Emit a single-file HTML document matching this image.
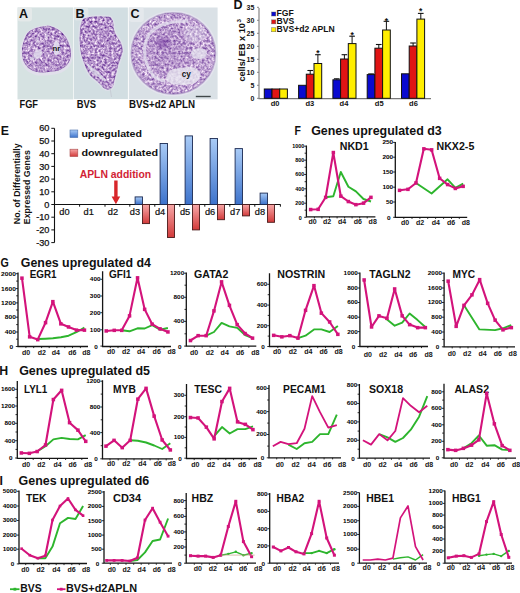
<!DOCTYPE html>
<html><head><meta charset="utf-8"><style>
html,body{margin:0;padding:0;background:#fff;overflow:hidden}
svg{display:block}
text{font-family:"Liberation Sans",sans-serif}
</style></head><body>
<svg width="520" height="593" viewBox="0 0 520 593" font-family="Liberation Sans, sans-serif" fill="#111">
<defs>
<filter id="tex" x="0" y="0" width="520" height="120" filterUnits="userSpaceOnUse" color-interpolation-filters="sRGB">
<feTurbulence type="fractalNoise" baseFrequency="0.42" numOctaves="2" seed="7" result="n"/>
<feColorMatrix in="n" type="matrix" values="1.0 0 0 0 0.215  1.25 0 0 0 -0.04  0.7 0 0 0 0.45  0 0 0 0 1"/>
</filter>
<linearGradient id="gup" x1="0" y1="0" x2="0" y2="1"><stop offset="0" stop-color="#a9cbf6"/><stop offset="1" stop-color="#3d73cc"/></linearGradient>
<linearGradient id="gdn" x1="0" y1="0" x2="0" y2="1"><stop offset="0" stop-color="#f7a8a8"/><stop offset="1" stop-color="#d23a3a"/></linearGradient>
<clipPath id="cA"><path d="M50.0,26.0 C52.6,26.6 56.3,28.3 58.8,30.0 C61.3,31.7 63.4,33.9 65.0,36.0 C66.6,38.1 67.5,39.8 68.5,42.5 C69.5,45.2 70.8,49.2 71.0,52.0 C71.2,54.8 70.8,57.2 70.0,59.5 C69.2,61.8 68.2,63.8 66.5,65.5 C64.8,67.2 62.2,68.8 60.0,69.8 C57.8,70.8 55.7,71.2 53.0,71.6 C50.3,72.0 46.8,72.4 44.0,72.4 C41.2,72.4 38.5,72.5 36.0,71.8 C33.5,71.1 30.9,70.0 29.0,68.5 C27.1,67.0 25.6,65.1 24.5,63.0 C23.4,60.9 22.6,58.7 22.2,56.0 C21.8,53.3 21.9,49.8 22.3,47.0 C22.7,44.2 23.5,41.5 24.5,39.0 C25.5,36.5 26.6,33.8 28.5,32.0 C30.4,30.2 33.6,28.9 36.0,28.0 C38.4,27.1 40.7,26.7 43.0,26.4 C45.3,26.1 47.4,25.4 50.0,26.0 Z"/></clipPath>
<clipPath id="cB"><path d="M83.5,19.0 C85.0,17.8 87.6,17.4 90.0,17.0 C92.4,16.6 95.3,16.6 98.0,16.6 C100.7,16.6 103.9,16.7 106.0,16.8 C108.1,16.9 109.3,16.6 110.5,17.5 C111.7,18.4 112.4,19.9 113.0,22.0 C113.6,24.1 113.3,27.6 114.0,30.0 C114.7,32.4 115.8,34.3 117.0,36.5 C118.2,38.7 120.1,40.8 121.0,43.0 C121.9,45.2 122.6,47.7 122.6,50.0 C122.6,52.3 121.7,54.7 121.0,57.0 C120.3,59.3 119.2,61.5 118.5,64.0 C117.8,66.5 117.2,69.3 116.5,72.0 C115.8,74.7 115.1,77.6 114.5,80.0 C113.9,82.4 113.7,84.9 112.8,86.5 C111.9,88.1 110.4,89.2 109.0,89.5 C107.6,89.8 106.0,89.4 104.5,88.5 C103.0,87.6 101.6,85.5 100.0,84.0 C98.4,82.5 96.7,81.0 95.0,79.5 C93.3,78.0 91.4,76.8 90.0,75.0 C88.6,73.2 87.7,71.5 86.5,69.0 C85.3,66.5 84.0,62.8 83.0,60.0 C82.0,57.2 81.3,55.0 80.8,52.0 C80.3,49.0 79.9,45.3 79.8,42.0 C79.7,38.7 79.7,35.0 79.9,32.0 C80.1,29.0 80.4,26.2 81.0,24.0 C81.6,21.8 82.0,20.2 83.5,19.0 Z"/></clipPath>
<clipPath id="cC"><ellipse cx="173.4" cy="53.4" rx="42" ry="40.6"/></clipPath>
</defs>
<rect x="0" y="0" width="520" height="593" fill="#ffffff"/>
<rect x="17.5" y="7.4" width="55.8" height="92" fill="#d6e2e2"/>
<rect x="73.9" y="7.5" width="54" height="91.6" fill="#d2dee2"/>
<rect x="128.8" y="7.5" width="88.8" height="91.8" fill="#dae1e6"/>
<rect x="17.5" y="7" width="14.5" height="14.5" rx="3" fill="#e8ebeb" opacity="0.75"/>
<rect x="73.8" y="7" width="14.5" height="13.5" rx="3" fill="#e6eaeb" opacity="0.7"/>
<rect x="128.8" y="7" width="15" height="15" rx="3" fill="#e8ebee" opacity="0.7"/>
<path d="M50.0,26.0 C52.6,26.6 56.3,28.3 58.8,30.0 C61.3,31.7 63.4,33.9 65.0,36.0 C66.6,38.1 67.5,39.8 68.5,42.5 C69.5,45.2 70.8,49.2 71.0,52.0 C71.2,54.8 70.8,57.2 70.0,59.5 C69.2,61.8 68.2,63.8 66.5,65.5 C64.8,67.2 62.2,68.8 60.0,69.8 C57.8,70.8 55.7,71.2 53.0,71.6 C50.3,72.0 46.8,72.4 44.0,72.4 C41.2,72.4 38.5,72.5 36.0,71.8 C33.5,71.1 30.9,70.0 29.0,68.5 C27.1,67.0 25.6,65.1 24.5,63.0 C23.4,60.9 22.6,58.7 22.2,56.0 C21.8,53.3 21.9,49.8 22.3,47.0 C22.7,44.2 23.5,41.5 24.5,39.0 C25.5,36.5 26.6,33.8 28.5,32.0 C30.4,30.2 33.6,28.9 36.0,28.0 C38.4,27.1 40.7,26.7 43.0,26.4 C45.3,26.1 47.4,25.4 50.0,26.0 Z" fill="#e4e0ee" stroke="#e4e0ee" stroke-width="4" stroke-linejoin="round" opacity="0.8" transform="translate(0,1.2)"/>
<path d="M83.5,19.0 C85.0,17.8 87.6,17.4 90.0,17.0 C92.4,16.6 95.3,16.6 98.0,16.6 C100.7,16.6 103.9,16.7 106.0,16.8 C108.1,16.9 109.3,16.6 110.5,17.5 C111.7,18.4 112.4,19.9 113.0,22.0 C113.6,24.1 113.3,27.6 114.0,30.0 C114.7,32.4 115.8,34.3 117.0,36.5 C118.2,38.7 120.1,40.8 121.0,43.0 C121.9,45.2 122.6,47.7 122.6,50.0 C122.6,52.3 121.7,54.7 121.0,57.0 C120.3,59.3 119.2,61.5 118.5,64.0 C117.8,66.5 117.2,69.3 116.5,72.0 C115.8,74.7 115.1,77.6 114.5,80.0 C113.9,82.4 113.7,84.9 112.8,86.5 C111.9,88.1 110.4,89.2 109.0,89.5 C107.6,89.8 106.0,89.4 104.5,88.5 C103.0,87.6 101.6,85.5 100.0,84.0 C98.4,82.5 96.7,81.0 95.0,79.5 C93.3,78.0 91.4,76.8 90.0,75.0 C88.6,73.2 87.7,71.5 86.5,69.0 C85.3,66.5 84.0,62.8 83.0,60.0 C82.0,57.2 81.3,55.0 80.8,52.0 C80.3,49.0 79.9,45.3 79.8,42.0 C79.7,38.7 79.7,35.0 79.9,32.0 C80.1,29.0 80.4,26.2 81.0,24.0 C81.6,21.8 82.0,20.2 83.5,19.0 Z" fill="#e2e0ec" stroke="#e2e0ec" stroke-width="3" opacity="0.7"/>
<ellipse cx="173.4" cy="53.4" rx="44.5" ry="43" fill="#e4e4ee" opacity="0.9"/>
<g clip-path="url(#cA)"><rect x="0" y="0" width="520" height="120" filter="url(#tex)"/></g>
<g clip-path="url(#cB)"><rect x="0" y="0" width="520" height="120" filter="url(#tex)"/></g>
<g clip-path="url(#cC)"><rect x="0" y="0" width="520" height="120" filter="url(#tex)"/></g>
<path d="M50.0,26.0 C52.6,26.6 56.3,28.3 58.8,30.0 C61.3,31.7 63.4,33.9 65.0,36.0 C66.6,38.1 67.5,39.8 68.5,42.5 C69.5,45.2 70.8,49.2 71.0,52.0 C71.2,54.8 70.8,57.2 70.0,59.5 C69.2,61.8 68.2,63.8 66.5,65.5 C64.8,67.2 62.2,68.8 60.0,69.8 C57.8,70.8 55.7,71.2 53.0,71.6 C50.3,72.0 46.8,72.4 44.0,72.4 C41.2,72.4 38.5,72.5 36.0,71.8 C33.5,71.1 30.9,70.0 29.0,68.5 C27.1,67.0 25.6,65.1 24.5,63.0 C23.4,60.9 22.6,58.7 22.2,56.0 C21.8,53.3 21.9,49.8 22.3,47.0 C22.7,44.2 23.5,41.5 24.5,39.0 C25.5,36.5 26.6,33.8 28.5,32.0 C30.4,30.2 33.6,28.9 36.0,28.0 C38.4,27.1 40.7,26.7 43.0,26.4 C45.3,26.1 47.4,25.4 50.0,26.0 Z" fill="none" stroke="#5a2a88" stroke-width="1.6" opacity="0.35" clip-path="url(#cA)"/>
<g clip-path="url(#cA)" fill="#e2deee"><ellipse cx="37.8" cy="54" rx="3.8" ry="5.2" transform="rotate(35 37.8 54)" opacity="0.8"/><ellipse cx="32" cy="58.5" rx="2.4" ry="1.8" opacity="0.7"/><ellipse cx="56.4" cy="48.2" rx="3.4" ry="7" opacity="0.9"/><ellipse cx="37.5" cy="40" rx="1.4" ry="4" opacity="0.45"/><ellipse cx="47" cy="36" rx="1.2" ry="3" opacity="0.4"/></g>
<path d="M83.5,19.0 C85.0,17.8 87.6,17.4 90.0,17.0 C92.4,16.6 95.3,16.6 98.0,16.6 C100.7,16.6 103.9,16.7 106.0,16.8 C108.1,16.9 109.3,16.6 110.5,17.5 C111.7,18.4 112.4,19.9 113.0,22.0 C113.6,24.1 113.3,27.6 114.0,30.0 C114.7,32.4 115.8,34.3 117.0,36.5 C118.2,38.7 120.1,40.8 121.0,43.0 C121.9,45.2 122.6,47.7 122.6,50.0 C122.6,52.3 121.7,54.7 121.0,57.0 C120.3,59.3 119.2,61.5 118.5,64.0 C117.8,66.5 117.2,69.3 116.5,72.0 C115.8,74.7 115.1,77.6 114.5,80.0 C113.9,82.4 113.7,84.9 112.8,86.5 C111.9,88.1 110.4,89.2 109.0,89.5 C107.6,89.8 106.0,89.4 104.5,88.5 C103.0,87.6 101.6,85.5 100.0,84.0 C98.4,82.5 96.7,81.0 95.0,79.5 C93.3,78.0 91.4,76.8 90.0,75.0 C88.6,73.2 87.7,71.5 86.5,69.0 C85.3,66.5 84.0,62.8 83.0,60.0 C82.0,57.2 81.3,55.0 80.8,52.0 C80.3,49.0 79.9,45.3 79.8,42.0 C79.7,38.7 79.7,35.0 79.9,32.0 C80.1,29.0 80.4,26.2 81.0,24.0 C81.6,21.8 82.0,20.2 83.5,19.0 Z" fill="none" stroke="#5a2a88" stroke-width="1.8" opacity="0.3" clip-path="url(#cB)"/>
<ellipse cx="173.4" cy="53.4" rx="42" ry="40.6" fill="none" stroke="#5a2a88" stroke-width="1.8" opacity="0.3"/>
<g clip-path="url(#cB)" fill="#dde0ea"><path d="M86,62 Q91,67 97,71 Q102,75 106.5,80.5 L105,81.5 Q99,77.5 93.5,74 Q88.5,69.5 86,62 Z" opacity="0.7"/><circle cx="92" cy="78" r="1.6" opacity="0.6"/><circle cx="97" cy="82" r="1.4" opacity="0.6"/><circle cx="89" cy="73" r="1.2" opacity="0.5"/><circle cx="101" cy="86" r="1.3" opacity="0.5"/><path d="M80,50 Q81,58 84,64 L82,64 Z" opacity="0.6"/></g>
<line x1="110" y1="88" x2="111.5" y2="97" stroke="#c8cdd6" stroke-width="1"/>
<radialGradient id="dk"><stop offset="0" stop-color="#6a2a98" stop-opacity="0.55"/><stop offset="1" stop-color="#6a2a98" stop-opacity="0"/></radialGradient>
<g clip-path="url(#cC)"><rect x="128" y="8" width="92" height="92" fill="#ffffff" opacity="0.13"/><ellipse cx="168" cy="50" rx="24" ry="26" fill="#7a3aa0" opacity="0.10"/><ellipse cx="195" cy="34" rx="11" ry="8" fill="#eceaf4" opacity="0.35"/><path d="M188,21 Q164,21 152,31 Q144,40 144.5,52 Q145,64 152,74 Q157,80 165,81" fill="none" stroke="#e4e2ef" stroke-width="3" opacity="0.75"/><ellipse cx="163" cy="43" rx="10" ry="9" fill="url(#dk)"/><ellipse cx="199" cy="53.5" rx="8" ry="5.5" fill="#e6e4ef" opacity="0.75"/><path d="M166,78 Q167,72 172,69.5 Q180,67 190,67 Q198,68 200.5,73 Q201,80 194,83.5 Q183,86 172,84 Q167,82 166,78 Z" fill="#e8e7f0" opacity="0.8"/></g>
<text x="52.60" y="50.60" font-size="7.6" font-weight="bold" fill="#141414" textLength="7.80" lengthAdjust="spacingAndGlyphs" >nr</text>
<text x="181.80" y="77.20" font-size="8.2" font-weight="bold" fill="#141414" >cy</text>
<line x1="195.8" y1="96.5" x2="210.7" y2="96.5" stroke="#40484a" stroke-width="1.4"/>
<text x="19.00" y="18.10" font-size="12.5" font-weight="bold" >A</text>
<text x="75.60" y="18.10" font-size="12.5" font-weight="bold" >B</text>
<text x="130.60" y="18.10" font-size="12.5" font-weight="bold" >C</text>
<text x="19.50" y="107.70" font-size="10" font-weight="bold" textLength="18.50" lengthAdjust="spacingAndGlyphs" >FGF</text>
<text x="76.70" y="107.70" font-size="10" font-weight="bold" textLength="19.30" lengthAdjust="spacingAndGlyphs" >BVS</text>
<text x="129.00" y="107.70" font-size="10" font-weight="bold" textLength="66.00" lengthAdjust="spacingAndGlyphs" >BVS+d2 APLN</text>
<text x="233.40" y="8.70" font-size="12.5" font-weight="bold" >D</text>
<path d="M259,8 V98.6 H431" fill="none" stroke="#7a7a7a" stroke-width="1.1"/>
<line x1="257" y1="98.3" x2="259" y2="98.3" stroke="#7a7a7a" stroke-width="0.9"/>
<text x="254.40" y="100.70" font-size="7.0" font-weight="bold" text-anchor="end" textLength="3.90" lengthAdjust="spacingAndGlyphs" >0</text>
<line x1="257" y1="85.3" x2="259" y2="85.3" stroke="#7a7a7a" stroke-width="0.9"/>
<text x="254.40" y="87.70" font-size="7.0" font-weight="bold" text-anchor="end" textLength="3.90" lengthAdjust="spacingAndGlyphs" >5</text>
<line x1="257" y1="72.3" x2="259" y2="72.3" stroke="#7a7a7a" stroke-width="0.9"/>
<text x="254.40" y="74.70" font-size="7.0" font-weight="bold" text-anchor="end" textLength="7.80" lengthAdjust="spacingAndGlyphs" >10</text>
<line x1="257" y1="59.3" x2="259" y2="59.3" stroke="#7a7a7a" stroke-width="0.9"/>
<text x="254.40" y="61.70" font-size="7.0" font-weight="bold" text-anchor="end" textLength="7.80" lengthAdjust="spacingAndGlyphs" >15</text>
<line x1="257" y1="46.3" x2="259" y2="46.3" stroke="#7a7a7a" stroke-width="0.9"/>
<text x="254.40" y="48.70" font-size="7.0" font-weight="bold" text-anchor="end" textLength="7.80" lengthAdjust="spacingAndGlyphs" >20</text>
<line x1="257" y1="33.3" x2="259" y2="33.3" stroke="#7a7a7a" stroke-width="0.9"/>
<text x="254.40" y="35.70" font-size="7.0" font-weight="bold" text-anchor="end" textLength="7.80" lengthAdjust="spacingAndGlyphs" >25</text>
<line x1="257" y1="20.3" x2="259" y2="20.3" stroke="#7a7a7a" stroke-width="0.9"/>
<text x="254.40" y="22.70" font-size="7.0" font-weight="bold" text-anchor="end" textLength="7.80" lengthAdjust="spacingAndGlyphs" >30</text>
<line x1="257" y1="7.3" x2="259" y2="7.3" stroke="#7a7a7a" stroke-width="0.9"/>
<text x="254.40" y="9.70" font-size="7.0" font-weight="bold" text-anchor="end" textLength="7.80" lengthAdjust="spacingAndGlyphs" >35</text>
<text x="0.00" y="0.00" font-size="8.7" font-weight="bold" textLength="58.50" lengthAdjust="spacingAndGlyphs" transform="translate(244.6,81.6) rotate(-90)">cells/ EB x 10</text>
<text x="0.00" y="0.00" font-size="6.2" font-weight="bold" transform="translate(241.2,22.4) rotate(-90)">3</text>
<rect x="264.3" y="89.0" width="7.7" height="9.3" fill="#0a0acf" stroke="#111" stroke-width="1.0"/>
<rect x="272.0" y="89.0" width="7.7" height="9.3" fill="#e01414" stroke="#111" stroke-width="1.0"/>
<rect x="279.7" y="89.0" width="7.7" height="9.3" fill="#ffee00" stroke="#111" stroke-width="1.0"/>
<text x="275.10" y="105.90" font-size="7.6" font-weight="bold" text-anchor="middle" textLength="8.80" lengthAdjust="spacingAndGlyphs" >d0</text>
<rect x="298.6" y="85.3" width="7.7" height="13.0" fill="#0a0acf" stroke="#111" stroke-width="1.0"/>
<line x1="310.2" y1="74.2" x2="310.2" y2="70.5" stroke="#111" stroke-width="1"/>
<line x1="307.4" y1="70.5" x2="313.0" y2="70.5" stroke="#111" stroke-width="1.1"/>
<rect x="306.3" y="74.2" width="7.7" height="24.1" fill="#e01414" stroke="#111" stroke-width="1.0"/>
<line x1="317.9" y1="63.5" x2="317.9" y2="54.7" stroke="#111" stroke-width="1"/>
<line x1="315.1" y1="54.7" x2="320.7" y2="54.7" stroke="#111" stroke-width="1.1"/>
<rect x="314.0" y="63.5" width="7.7" height="34.8" fill="#ffee00" stroke="#111" stroke-width="1.0"/>
<text x="317.85" y="56.10" font-size="8.5" font-weight="bold" text-anchor="middle" >*</text>
<text x="309.90" y="105.90" font-size="7.6" font-weight="bold" text-anchor="middle" textLength="8.80" lengthAdjust="spacingAndGlyphs" >d3</text>
<line x1="336.8" y1="79.8" x2="336.8" y2="78.8" stroke="#111" stroke-width="1"/>
<line x1="333.9" y1="78.8" x2="339.6" y2="78.8" stroke="#111" stroke-width="1.1"/>
<rect x="332.9" y="79.8" width="7.7" height="18.5" fill="#0a0acf" stroke="#111" stroke-width="1.0"/>
<line x1="344.4" y1="59.0" x2="344.4" y2="54.7" stroke="#111" stroke-width="1"/>
<line x1="341.6" y1="54.7" x2="347.2" y2="54.7" stroke="#111" stroke-width="1.1"/>
<rect x="340.6" y="59.0" width="7.7" height="39.3" fill="#e01414" stroke="#111" stroke-width="1.0"/>
<line x1="352.1" y1="43.6" x2="352.1" y2="36.2" stroke="#111" stroke-width="1"/>
<line x1="349.3" y1="36.2" x2="354.9" y2="36.2" stroke="#111" stroke-width="1.1"/>
<rect x="348.3" y="43.6" width="7.7" height="54.7" fill="#ffee00" stroke="#111" stroke-width="1.0"/>
<text x="352.15" y="38.10" font-size="8.5" font-weight="bold" text-anchor="middle" >*</text>
<text x="344.00" y="105.90" font-size="7.6" font-weight="bold" text-anchor="middle" textLength="8.80" lengthAdjust="spacingAndGlyphs" >d4</text>
<line x1="371.1" y1="74.6" x2="371.1" y2="73.9" stroke="#111" stroke-width="1"/>
<line x1="368.2" y1="73.9" x2="373.9" y2="73.9" stroke="#111" stroke-width="1.1"/>
<rect x="367.2" y="74.6" width="7.7" height="23.7" fill="#0a0acf" stroke="#111" stroke-width="1.0"/>
<line x1="378.8" y1="48.2" x2="378.8" y2="44.5" stroke="#111" stroke-width="1"/>
<line x1="375.9" y1="44.5" x2="381.6" y2="44.5" stroke="#111" stroke-width="1.1"/>
<rect x="374.9" y="48.2" width="7.7" height="50.1" fill="#e01414" stroke="#111" stroke-width="1.0"/>
<line x1="386.4" y1="30.0" x2="386.4" y2="21.3" stroke="#111" stroke-width="1"/>
<line x1="383.6" y1="21.3" x2="389.2" y2="21.3" stroke="#111" stroke-width="1.1"/>
<rect x="382.6" y="30.0" width="7.7" height="68.3" fill="#ffee00" stroke="#111" stroke-width="1.0"/>
<text x="386.45" y="23.60" font-size="8.5" font-weight="bold" text-anchor="middle" >*</text>
<text x="379.20" y="105.90" font-size="7.6" font-weight="bold" text-anchor="middle" textLength="8.80" lengthAdjust="spacingAndGlyphs" >d5</text>
<rect x="401.5" y="73.8" width="7.7" height="24.5" fill="#0a0acf" stroke="#111" stroke-width="1.0"/>
<line x1="413.1" y1="46.0" x2="413.1" y2="43.0" stroke="#111" stroke-width="1"/>
<line x1="410.2" y1="43.0" x2="415.9" y2="43.0" stroke="#111" stroke-width="1.1"/>
<rect x="409.2" y="46.0" width="7.7" height="52.3" fill="#e01414" stroke="#111" stroke-width="1.0"/>
<line x1="420.8" y1="19.1" x2="420.8" y2="13.4" stroke="#111" stroke-width="1"/>
<line x1="417.9" y1="13.4" x2="423.6" y2="13.4" stroke="#111" stroke-width="1.1"/>
<rect x="416.9" y="19.1" width="7.7" height="79.2" fill="#ffee00" stroke="#111" stroke-width="1.0"/>
<text x="420.75" y="13.80" font-size="8.5" font-weight="bold" text-anchor="middle" >*</text>
<text x="413.50" y="105.90" font-size="7.6" font-weight="bold" text-anchor="middle" textLength="8.80" lengthAdjust="spacingAndGlyphs" >d6</text>
<rect x="271.6" y="12.0" width="4.2" height="4" fill="#0a0acf" stroke="#555" stroke-width="0.4"/>
<text x="276.60" y="16.10" font-size="8.6" font-weight="bold" textLength="17.19" lengthAdjust="spacingAndGlyphs" >FGF</text>
<rect x="271.6" y="19.9" width="4.2" height="4" fill="#e01414" stroke="#555" stroke-width="0.4"/>
<text x="276.60" y="24.00" font-size="8.6" font-weight="bold" textLength="17.68" lengthAdjust="spacingAndGlyphs" >BVS</text>
<rect x="271.6" y="27.8" width="4.2" height="4" fill="#ffee00" stroke="#555" stroke-width="0.4"/>
<text x="276.60" y="31.90" font-size="8.6" font-weight="bold" textLength="58.22" lengthAdjust="spacingAndGlyphs" >BVS+d2 APLN</text>
<text x="0.80" y="134.60" font-size="12.5" font-weight="bold" textLength="8.20" lengthAdjust="spacingAndGlyphs" >E</text>
<path d="M54.5,128.3 V242.6" stroke="#111" stroke-width="1.1"/>
<path d="M54.5,204.5 H280.6" stroke="#111" stroke-width="1.1"/>
<line x1="51.3" y1="242.6" x2="54.5" y2="242.6" stroke="#111" stroke-width="1"/>
<text x="49.40" y="245.70" font-size="8.7" text-anchor="end" textLength="13.20" lengthAdjust="spacingAndGlyphs" stroke="#111" stroke-width="0.25">-30</text>
<line x1="51.3" y1="229.9" x2="54.5" y2="229.9" stroke="#111" stroke-width="1"/>
<text x="49.40" y="233.00" font-size="8.7" text-anchor="end" textLength="13.20" lengthAdjust="spacingAndGlyphs" stroke="#111" stroke-width="0.25">-20</text>
<line x1="51.3" y1="217.2" x2="54.5" y2="217.2" stroke="#111" stroke-width="1"/>
<text x="49.40" y="220.30" font-size="8.7" text-anchor="end" textLength="13.20" lengthAdjust="spacingAndGlyphs" stroke="#111" stroke-width="0.25">-10</text>
<line x1="51.3" y1="204.5" x2="54.5" y2="204.5" stroke="#111" stroke-width="1"/>
<text x="49.40" y="207.60" font-size="8.7" text-anchor="end" textLength="5.08" lengthAdjust="spacingAndGlyphs" stroke="#111" stroke-width="0.25">0</text>
<line x1="51.3" y1="191.8" x2="54.5" y2="191.8" stroke="#111" stroke-width="1"/>
<text x="49.40" y="194.90" font-size="8.7" text-anchor="end" textLength="10.16" lengthAdjust="spacingAndGlyphs" stroke="#111" stroke-width="0.25">10</text>
<line x1="51.3" y1="179.1" x2="54.5" y2="179.1" stroke="#111" stroke-width="1"/>
<text x="49.40" y="182.20" font-size="8.7" text-anchor="end" textLength="10.16" lengthAdjust="spacingAndGlyphs" stroke="#111" stroke-width="0.25">20</text>
<line x1="51.3" y1="166.4" x2="54.5" y2="166.4" stroke="#111" stroke-width="1"/>
<text x="49.40" y="169.50" font-size="8.7" text-anchor="end" textLength="10.16" lengthAdjust="spacingAndGlyphs" stroke="#111" stroke-width="0.25">30</text>
<line x1="51.3" y1="153.7" x2="54.5" y2="153.7" stroke="#111" stroke-width="1"/>
<text x="49.40" y="156.80" font-size="8.7" text-anchor="end" textLength="10.16" lengthAdjust="spacingAndGlyphs" stroke="#111" stroke-width="0.25">40</text>
<line x1="51.3" y1="141.0" x2="54.5" y2="141.0" stroke="#111" stroke-width="1"/>
<text x="49.40" y="144.10" font-size="8.7" text-anchor="end" textLength="10.16" lengthAdjust="spacingAndGlyphs" stroke="#111" stroke-width="0.25">50</text>
<line x1="51.3" y1="128.3" x2="54.5" y2="128.3" stroke="#111" stroke-width="1"/>
<text x="49.40" y="131.40" font-size="8.7" text-anchor="end" textLength="10.16" lengthAdjust="spacingAndGlyphs" stroke="#111" stroke-width="0.25">60</text>
<text x="0.00" y="0.00" font-size="8.8" font-weight="bold" textLength="80.80" lengthAdjust="spacingAndGlyphs" transform="translate(19.6,224.2) rotate(-90)">No. of Differentially</text>
<text x="0.00" y="0.00" font-size="8.8" font-weight="bold" textLength="74.00" lengthAdjust="spacingAndGlyphs" transform="translate(29.6,224.2) rotate(-90)">Expressed Genes</text>
<line x1="79.6" y1="204.5" x2="79.6" y2="206.7" stroke="#111" stroke-width="1"/>
<line x1="105" y1="204.5" x2="105" y2="206.7" stroke="#111" stroke-width="1"/>
<line x1="129.8" y1="204.5" x2="129.8" y2="206.7" stroke="#111" stroke-width="1"/>
<line x1="154.8" y1="204.5" x2="154.8" y2="206.7" stroke="#111" stroke-width="1"/>
<line x1="179.8" y1="204.5" x2="179.8" y2="206.7" stroke="#111" stroke-width="1"/>
<line x1="204.8" y1="204.5" x2="204.8" y2="206.7" stroke="#111" stroke-width="1"/>
<line x1="229.8" y1="204.5" x2="229.8" y2="206.7" stroke="#111" stroke-width="1"/>
<line x1="254.8" y1="204.5" x2="254.8" y2="206.7" stroke="#111" stroke-width="1"/>
<line x1="280.4" y1="204.5" x2="280.4" y2="206.7" stroke="#111" stroke-width="1"/>
<text x="59.30" y="215.40" font-size="8.6" textLength="10.30" lengthAdjust="spacingAndGlyphs" stroke="#111" stroke-width="0.2">d0</text>
<text x="83.50" y="215.40" font-size="8.6" textLength="10.30" lengthAdjust="spacingAndGlyphs" stroke="#111" stroke-width="0.2">d1</text>
<text x="107.80" y="215.40" font-size="8.6" textLength="10.30" lengthAdjust="spacingAndGlyphs" stroke="#111" stroke-width="0.2">d2</text>
<text x="129.80" y="215.40" font-size="8.6" textLength="10.30" lengthAdjust="spacingAndGlyphs" stroke="#111" stroke-width="0.2">d3</text>
<text x="154.90" y="215.40" font-size="8.6" textLength="10.30" lengthAdjust="spacingAndGlyphs" stroke="#111" stroke-width="0.2">d4</text>
<text x="179.90" y="215.40" font-size="8.6" textLength="10.30" lengthAdjust="spacingAndGlyphs" stroke="#111" stroke-width="0.2">d5</text>
<text x="204.90" y="215.40" font-size="8.6" textLength="10.30" lengthAdjust="spacingAndGlyphs" stroke="#111" stroke-width="0.2">d6</text>
<text x="230.00" y="215.40" font-size="8.6" textLength="10.30" lengthAdjust="spacingAndGlyphs" stroke="#111" stroke-width="0.2">d7</text>
<text x="254.80" y="215.40" font-size="8.6" textLength="10.30" lengthAdjust="spacingAndGlyphs" stroke="#111" stroke-width="0.2">d8</text>
<rect x="135.1" y="196.9" width="7.4" height="7.6" fill="url(#gup)" stroke="#1b2a52" stroke-width="0.9"/>
<rect x="142.5" y="204.5" width="7.0" height="19.1" fill="url(#gdn)" stroke="#4a1a1a" stroke-width="0.9"/>
<rect x="160.1" y="143.5" width="7.4" height="61.0" fill="url(#gup)" stroke="#1b2a52" stroke-width="0.9"/>
<rect x="167.5" y="204.5" width="7.0" height="33.0" fill="url(#gdn)" stroke="#4a1a1a" stroke-width="0.9"/>
<rect x="185.1" y="135.9" width="7.4" height="68.6" fill="url(#gup)" stroke="#1b2a52" stroke-width="0.9"/>
<rect x="192.5" y="204.5" width="7.0" height="25.4" fill="url(#gdn)" stroke="#4a1a1a" stroke-width="0.9"/>
<rect x="210.1" y="138.5" width="7.4" height="66.0" fill="url(#gup)" stroke="#1b2a52" stroke-width="0.9"/>
<rect x="217.5" y="204.5" width="7.0" height="15.2" fill="url(#gdn)" stroke="#4a1a1a" stroke-width="0.9"/>
<rect x="235.1" y="148.6" width="7.4" height="55.9" fill="url(#gup)" stroke="#1b2a52" stroke-width="0.9"/>
<rect x="242.5" y="204.5" width="7.0" height="11.4" fill="url(#gdn)" stroke="#4a1a1a" stroke-width="0.9"/>
<rect x="260.1" y="193.1" width="7.4" height="11.4" fill="url(#gup)" stroke="#1b2a52" stroke-width="0.9"/>
<rect x="267.5" y="204.5" width="7.0" height="17.8" fill="url(#gdn)" stroke="#4a1a1a" stroke-width="0.9"/>
<rect x="70" y="130" width="7.8" height="7.5" fill="url(#gup)" stroke="#4a6fa8" stroke-width="0.6"/>
<rect x="70" y="149.2" width="7.8" height="7.3" fill="url(#gdn)" stroke="#a84a4a" stroke-width="0.6"/>
<text x="81.40" y="137.20" font-size="9.8" font-weight="bold" textLength="60.60" lengthAdjust="spacingAndGlyphs" >upregulated</text>
<text x="81.40" y="155.80" font-size="9.8" font-weight="bold" textLength="76.65" lengthAdjust="spacingAndGlyphs" >downregulated</text>
<text x="79.70" y="177.90" font-size="10.3" font-weight="bold" fill="#d21f35" textLength="71.50" lengthAdjust="spacingAndGlyphs" >APLN addition</text>
<path d="M114.2,180.5 H117.6 V196.5 H120.2 L115.9,204.3 L111.6,196.5 H114.2 Z" fill="#d8262b"/>
<text x="294.40" y="134.50" font-size="12.3" font-weight="bold" textLength="6.40" lengthAdjust="spacingAndGlyphs" >F</text>
<text x="311.20" y="134.50" font-size="12.3" font-weight="bold" textLength="130.50" lengthAdjust="spacingAndGlyphs" >Genes upregulated d3</text>
<text x="0.60" y="267.00" font-size="12.3" font-weight="bold" textLength="8.30" lengthAdjust="spacingAndGlyphs" >G</text>
<text x="20.80" y="267.00" font-size="12.3" font-weight="bold" textLength="130.10" lengthAdjust="spacingAndGlyphs" >Genes upregulated d4</text>
<text x="-0.80" y="374.90" font-size="12.3" font-weight="bold" >H</text>
<text x="19.20" y="374.90" font-size="12.3" font-weight="bold" textLength="130.80" lengthAdjust="spacingAndGlyphs" >Genes upregulated d5</text>
<text x="-0.50" y="484.60" font-size="12.3" font-weight="bold" >I</text>
<text x="18.60" y="484.60" font-size="12.3" font-weight="bold" textLength="130.70" lengthAdjust="spacingAndGlyphs" >Genes upregulated d6</text>
<path d="M306.4,145.5 V216.8 H375.4" fill="none" stroke="#151515" stroke-width="1.3"/>
<line x1="304.2" y1="146.2" x2="306.4" y2="146.2" stroke="#151515" stroke-width="0.9"/>
<text x="304.30" y="148.02" font-size="5.2" font-weight="bold" text-anchor="end" fill="#000" textLength="12.00" lengthAdjust="spacingAndGlyphs" >1000</text>
<line x1="304.59999999999997" y1="153.2" x2="306.4" y2="153.2" stroke="#151515" stroke-width="0.9"/>
<line x1="304.2" y1="160.2" x2="306.4" y2="160.2" stroke="#151515" stroke-width="0.9"/>
<text x="304.30" y="162.02" font-size="5.2" font-weight="bold" text-anchor="end" fill="#000" textLength="9.00" lengthAdjust="spacingAndGlyphs" >800</text>
<line x1="304.59999999999997" y1="167.3" x2="306.4" y2="167.3" stroke="#151515" stroke-width="0.9"/>
<line x1="304.2" y1="174.5" x2="306.4" y2="174.5" stroke="#151515" stroke-width="0.9"/>
<text x="304.30" y="176.32" font-size="5.2" font-weight="bold" text-anchor="end" fill="#000" textLength="9.00" lengthAdjust="spacingAndGlyphs" >600</text>
<line x1="304.59999999999997" y1="181.7" x2="306.4" y2="181.7" stroke="#151515" stroke-width="0.9"/>
<line x1="304.2" y1="188.8" x2="306.4" y2="188.8" stroke="#151515" stroke-width="0.9"/>
<text x="304.30" y="190.62" font-size="5.2" font-weight="bold" text-anchor="end" fill="#000" textLength="9.00" lengthAdjust="spacingAndGlyphs" >400</text>
<line x1="304.59999999999997" y1="196.0" x2="306.4" y2="196.0" stroke="#151515" stroke-width="0.9"/>
<line x1="304.2" y1="203.2" x2="306.4" y2="203.2" stroke="#151515" stroke-width="0.9"/>
<text x="304.30" y="205.02" font-size="5.2" font-weight="bold" text-anchor="end" fill="#000" textLength="9.00" lengthAdjust="spacingAndGlyphs" >200</text>
<line x1="304.59999999999997" y1="210.2" x2="306.4" y2="210.2" stroke="#151515" stroke-width="0.9"/>
<line x1="304.2" y1="217.3" x2="306.4" y2="217.3" stroke="#151515" stroke-width="0.9"/>
<text x="301.70" y="219.62" font-size="5.2" font-weight="bold" text-anchor="end" fill="#000" textLength="3.00" lengthAdjust="spacingAndGlyphs" >0</text>
<text x="308.50" y="224.20" font-size="7.0" font-weight="bold" fill="#151515" textLength="8.20" lengthAdjust="spacingAndGlyphs" >d0</text>
<text x="323.00" y="224.20" font-size="7.0" font-weight="bold" fill="#151515" textLength="8.20" lengthAdjust="spacingAndGlyphs" >d2</text>
<text x="338.00" y="224.20" font-size="7.0" font-weight="bold" fill="#151515" textLength="8.20" lengthAdjust="spacingAndGlyphs" >d4</text>
<text x="353.80" y="224.20" font-size="7.0" font-weight="bold" fill="#151515" textLength="8.20" lengthAdjust="spacingAndGlyphs" >d6</text>
<text x="368.60" y="224.20" font-size="7.0" font-weight="bold" fill="#151515" textLength="8.20" lengthAdjust="spacingAndGlyphs" >d8</text>
<line x1="314.4" y1="216.8" x2="314.4" y2="218.4" stroke="#151515" stroke-width="0.9"/>
<line x1="321.9" y1="216.8" x2="321.9" y2="218.4" stroke="#151515" stroke-width="0.9"/>
<line x1="329.5" y1="216.8" x2="329.5" y2="218.4" stroke="#151515" stroke-width="0.9"/>
<line x1="337.1" y1="216.8" x2="337.1" y2="218.4" stroke="#151515" stroke-width="0.9"/>
<line x1="344.6" y1="216.8" x2="344.6" y2="218.4" stroke="#151515" stroke-width="0.9"/>
<line x1="352.1" y1="216.8" x2="352.1" y2="218.4" stroke="#151515" stroke-width="0.9"/>
<line x1="359.7" y1="216.8" x2="359.7" y2="218.4" stroke="#151515" stroke-width="0.9"/>
<line x1="367.2" y1="216.8" x2="367.2" y2="218.4" stroke="#151515" stroke-width="0.9"/>
<text x="339.70" y="149.80" font-size="10.4" font-weight="bold" textLength="29.00" lengthAdjust="spacingAndGlyphs" >NKD1</text>
<polyline points="325.7,197.3 333.3,196.2 340.8,172.0 348.4,186.7 355.9,191.4 363.5,199.0 371.0,201.5" fill="none" stroke="#2db52d" stroke-width="1.9" stroke-linejoin="round"/>
<polyline points="310.6,209.5 318.1,209.3 325.7,197.3 333.3,152.6 340.8,196.2 348.4,201.5 355.9,204.7 363.5,203.2 371.0,197.3" fill="none" stroke="#d3137b" stroke-width="2.1" stroke-linejoin="round"/>
<rect x="308.9" y="207.8" width="3.5" height="3.5" fill="#d3137b"/>
<rect x="316.4" y="207.6" width="3.5" height="3.5" fill="#d3137b"/>
<rect x="323.9" y="195.6" width="3.5" height="3.5" fill="#d3137b"/>
<rect x="331.6" y="150.8" width="3.5" height="3.5" fill="#d3137b"/>
<rect x="339.1" y="194.4" width="3.5" height="3.5" fill="#d3137b"/>
<rect x="346.6" y="199.8" width="3.5" height="3.5" fill="#d3137b"/>
<rect x="354.1" y="202.9" width="3.5" height="3.5" fill="#d3137b"/>
<rect x="361.8" y="201.4" width="3.5" height="3.5" fill="#d3137b"/>
<rect x="369.2" y="195.6" width="3.5" height="3.5" fill="#d3137b"/>
<path d="M395.3,142.0 V217.3 H467.2" fill="none" stroke="#151515" stroke-width="1.3"/>
<line x1="393.1" y1="142.4" x2="395.3" y2="142.4" stroke="#151515" stroke-width="0.9"/>
<text x="393.20" y="144.29" font-size="5.4" font-weight="bold" text-anchor="end" fill="#000" textLength="10.80" lengthAdjust="spacingAndGlyphs" >250</text>
<line x1="393.1" y1="157.2" x2="395.3" y2="157.2" stroke="#151515" stroke-width="0.9"/>
<text x="393.20" y="159.09" font-size="5.4" font-weight="bold" text-anchor="end" fill="#000" textLength="10.80" lengthAdjust="spacingAndGlyphs" >200</text>
<line x1="393.1" y1="172" x2="395.3" y2="172" stroke="#151515" stroke-width="0.9"/>
<text x="393.20" y="173.89" font-size="5.4" font-weight="bold" text-anchor="end" fill="#000" textLength="10.80" lengthAdjust="spacingAndGlyphs" >150</text>
<line x1="393.1" y1="187.2" x2="395.3" y2="187.2" stroke="#151515" stroke-width="0.9"/>
<text x="393.20" y="189.09" font-size="5.4" font-weight="bold" text-anchor="end" fill="#000" textLength="10.80" lengthAdjust="spacingAndGlyphs" >100</text>
<line x1="393.1" y1="202" x2="395.3" y2="202" stroke="#151515" stroke-width="0.9"/>
<text x="393.20" y="203.89" font-size="5.4" font-weight="bold" text-anchor="end" fill="#000" textLength="7.20" lengthAdjust="spacingAndGlyphs" >50</text>
<line x1="393.1" y1="217.3" x2="395.3" y2="217.3" stroke="#151515" stroke-width="0.9"/>
<text x="390.60" y="219.69" font-size="5.4" font-weight="bold" text-anchor="end" fill="#000" textLength="3.60" lengthAdjust="spacingAndGlyphs" >0</text>
<text x="401.00" y="225.00" font-size="7.0" font-weight="bold" fill="#151515" textLength="8.20" lengthAdjust="spacingAndGlyphs" >d0</text>
<text x="416.00" y="225.00" font-size="7.0" font-weight="bold" fill="#151515" textLength="8.20" lengthAdjust="spacingAndGlyphs" >d2</text>
<text x="431.80" y="225.00" font-size="7.0" font-weight="bold" fill="#151515" textLength="8.20" lengthAdjust="spacingAndGlyphs" >d4</text>
<text x="447.00" y="225.00" font-size="7.0" font-weight="bold" fill="#151515" textLength="8.20" lengthAdjust="spacingAndGlyphs" >d6</text>
<text x="461.80" y="225.00" font-size="7.0" font-weight="bold" fill="#151515" textLength="8.20" lengthAdjust="spacingAndGlyphs" >d8</text>
<line x1="403.8" y1="217.3" x2="403.8" y2="218.9" stroke="#151515" stroke-width="0.9"/>
<line x1="412.0" y1="217.3" x2="412.0" y2="218.9" stroke="#151515" stroke-width="0.9"/>
<line x1="419.9" y1="217.3" x2="419.9" y2="218.9" stroke="#151515" stroke-width="0.9"/>
<line x1="427.7" y1="217.3" x2="427.7" y2="218.9" stroke="#151515" stroke-width="0.9"/>
<line x1="435.6" y1="217.3" x2="435.6" y2="218.9" stroke="#151515" stroke-width="0.9"/>
<line x1="443.6" y1="217.3" x2="443.6" y2="218.9" stroke="#151515" stroke-width="0.9"/>
<line x1="451.5" y1="217.3" x2="451.5" y2="218.9" stroke="#151515" stroke-width="0.9"/>
<line x1="459.3" y1="217.3" x2="459.3" y2="218.9" stroke="#151515" stroke-width="0.9"/>
<text x="436.50" y="149.80" font-size="10.4" font-weight="bold" textLength="37.80" lengthAdjust="spacingAndGlyphs" >NKX2-5</text>
<polyline points="416.0,183.0 431.6,193.5 447.6,179.3 455.4,187.8 463.2,183.6" fill="none" stroke="#2db52d" stroke-width="1.9" stroke-linejoin="round"/>
<polyline points="399.5,190.3 408.0,189.3 416.0,183.0 423.8,148.8 431.6,149.8 439.6,178.3 447.6,184.6 455.4,188.4 463.2,186.3" fill="none" stroke="#d3137b" stroke-width="2.1" stroke-linejoin="round"/>
<rect x="397.8" y="188.6" width="3.5" height="3.5" fill="#d3137b"/>
<rect x="406.2" y="187.6" width="3.5" height="3.5" fill="#d3137b"/>
<rect x="414.2" y="181.2" width="3.5" height="3.5" fill="#d3137b"/>
<rect x="422.1" y="147.1" width="3.5" height="3.5" fill="#d3137b"/>
<rect x="429.9" y="148.1" width="3.5" height="3.5" fill="#d3137b"/>
<rect x="437.9" y="176.6" width="3.5" height="3.5" fill="#d3137b"/>
<rect x="445.9" y="182.8" width="3.5" height="3.5" fill="#d3137b"/>
<rect x="453.6" y="186.7" width="3.5" height="3.5" fill="#d3137b"/>
<rect x="461.4" y="184.6" width="3.5" height="3.5" fill="#d3137b"/>
<path d="M18,272.6 V346.5 H88" fill="none" stroke="#151515" stroke-width="1.3"/>
<line x1="15.8" y1="273.7" x2="18" y2="273.7" stroke="#151515" stroke-width="0.9"/>
<text x="15.90" y="275.66" font-size="5.6" font-weight="bold" text-anchor="end" fill="#000" textLength="14.80" lengthAdjust="spacingAndGlyphs" >2000</text>
<line x1="16.2" y1="281.1" x2="18" y2="281.1" stroke="#151515" stroke-width="0.9"/>
<line x1="15.8" y1="288.6" x2="18" y2="288.6" stroke="#151515" stroke-width="0.9"/>
<text x="15.90" y="290.56" font-size="5.6" font-weight="bold" text-anchor="end" fill="#000" textLength="14.80" lengthAdjust="spacingAndGlyphs" >1600</text>
<line x1="16.2" y1="295.8" x2="18" y2="295.8" stroke="#151515" stroke-width="0.9"/>
<line x1="15.8" y1="302.9" x2="18" y2="302.9" stroke="#151515" stroke-width="0.9"/>
<text x="15.90" y="304.86" font-size="5.6" font-weight="bold" text-anchor="end" fill="#000" textLength="14.80" lengthAdjust="spacingAndGlyphs" >1200</text>
<line x1="16.2" y1="310.0" x2="18" y2="310.0" stroke="#151515" stroke-width="0.9"/>
<line x1="15.8" y1="317.2" x2="18" y2="317.2" stroke="#151515" stroke-width="0.9"/>
<text x="15.90" y="319.16" font-size="5.6" font-weight="bold" text-anchor="end" fill="#000" textLength="11.10" lengthAdjust="spacingAndGlyphs" >800</text>
<line x1="16.2" y1="324.6" x2="18" y2="324.6" stroke="#151515" stroke-width="0.9"/>
<line x1="15.8" y1="332" x2="18" y2="332" stroke="#151515" stroke-width="0.9"/>
<text x="15.90" y="333.96" font-size="5.6" font-weight="bold" text-anchor="end" fill="#000" textLength="11.10" lengthAdjust="spacingAndGlyphs" >400</text>
<line x1="16.2" y1="339.2" x2="18" y2="339.2" stroke="#151515" stroke-width="0.9"/>
<line x1="15.8" y1="346.5" x2="18" y2="346.5" stroke="#151515" stroke-width="0.9"/>
<text x="13.30" y="348.96" font-size="5.6" font-weight="bold" text-anchor="end" fill="#000" textLength="3.70" lengthAdjust="spacingAndGlyphs" >0</text>
<text x="21.90" y="354.80" font-size="7.0" font-weight="bold" fill="#151515" textLength="8.20" lengthAdjust="spacingAndGlyphs" >d0</text>
<text x="37.70" y="354.80" font-size="7.0" font-weight="bold" fill="#151515" textLength="8.20" lengthAdjust="spacingAndGlyphs" >d2</text>
<text x="51.70" y="354.80" font-size="7.0" font-weight="bold" fill="#151515" textLength="8.20" lengthAdjust="spacingAndGlyphs" >d4</text>
<text x="68.30" y="354.80" font-size="7.0" font-weight="bold" fill="#151515" textLength="8.20" lengthAdjust="spacingAndGlyphs" >d6</text>
<text x="82.30" y="354.80" font-size="7.0" font-weight="bold" fill="#151515" textLength="8.20" lengthAdjust="spacingAndGlyphs" >d8</text>
<line x1="25.9" y1="346.5" x2="25.9" y2="348.1" stroke="#151515" stroke-width="0.9"/>
<line x1="33.7" y1="346.5" x2="33.7" y2="348.1" stroke="#151515" stroke-width="0.9"/>
<line x1="41.6" y1="346.5" x2="41.6" y2="348.1" stroke="#151515" stroke-width="0.9"/>
<line x1="49.2" y1="346.5" x2="49.2" y2="348.1" stroke="#151515" stroke-width="0.9"/>
<line x1="56.9" y1="346.5" x2="56.9" y2="348.1" stroke="#151515" stroke-width="0.9"/>
<line x1="64.8" y1="346.5" x2="64.8" y2="348.1" stroke="#151515" stroke-width="0.9"/>
<line x1="72.5" y1="346.5" x2="72.5" y2="348.1" stroke="#151515" stroke-width="0.9"/>
<line x1="80.4" y1="346.5" x2="80.4" y2="348.1" stroke="#151515" stroke-width="0.9"/>
<text x="29.70" y="278.20" font-size="10.4" font-weight="bold" textLength="26.90" lengthAdjust="spacingAndGlyphs" >EGR1</text>
<polyline points="37.7,339.0 45.5,338.7 52.9,338.3 60.9,337.2 68.6,335.7 76.4,332.2 84.4,327.6" fill="none" stroke="#2db52d" stroke-width="1.9" stroke-linejoin="round"/>
<polyline points="22.0,278.2 29.7,336.8 37.7,339.6 45.5,322.7 52.9,301.6 60.9,323.8 68.6,327.0 76.4,330.1 84.4,330.1" fill="none" stroke="#d3137b" stroke-width="2.1" stroke-linejoin="round"/>
<rect x="20.2" y="276.4" width="3.5" height="3.5" fill="#d3137b"/>
<rect x="27.9" y="335.1" width="3.5" height="3.5" fill="#d3137b"/>
<rect x="36.0" y="337.9" width="3.5" height="3.5" fill="#d3137b"/>
<rect x="43.8" y="320.9" width="3.5" height="3.5" fill="#d3137b"/>
<rect x="51.1" y="299.9" width="3.5" height="3.5" fill="#d3137b"/>
<rect x="59.1" y="322.1" width="3.5" height="3.5" fill="#d3137b"/>
<rect x="66.8" y="325.2" width="3.5" height="3.5" fill="#d3137b"/>
<rect x="74.7" y="328.4" width="3.5" height="3.5" fill="#d3137b"/>
<rect x="82.7" y="328.4" width="3.5" height="3.5" fill="#d3137b"/>
<path d="M102.6,271.3 V346.5 H171" fill="none" stroke="#151515" stroke-width="1.3"/>
<line x1="100.39999999999999" y1="279.3" x2="102.6" y2="279.3" stroke="#151515" stroke-width="0.9"/>
<text x="100.50" y="281.26" font-size="5.6" font-weight="bold" text-anchor="end" fill="#000" textLength="10.65" lengthAdjust="spacingAndGlyphs" >400</text>
<line x1="100.39999999999999" y1="296" x2="102.6" y2="296" stroke="#151515" stroke-width="0.9"/>
<text x="100.50" y="297.96" font-size="5.6" font-weight="bold" text-anchor="end" fill="#000" textLength="10.65" lengthAdjust="spacingAndGlyphs" >300</text>
<line x1="100.39999999999999" y1="312.7" x2="102.6" y2="312.7" stroke="#151515" stroke-width="0.9"/>
<text x="100.50" y="314.66" font-size="5.6" font-weight="bold" text-anchor="end" fill="#000" textLength="10.65" lengthAdjust="spacingAndGlyphs" >200</text>
<line x1="100.39999999999999" y1="329.8" x2="102.6" y2="329.8" stroke="#151515" stroke-width="0.9"/>
<text x="100.50" y="331.76" font-size="5.6" font-weight="bold" text-anchor="end" fill="#000" textLength="10.65" lengthAdjust="spacingAndGlyphs" >100</text>
<line x1="100.39999999999999" y1="346.1" x2="102.6" y2="346.1" stroke="#151515" stroke-width="0.9"/>
<text x="97.90" y="348.56" font-size="5.6" font-weight="bold" text-anchor="end" fill="#000" textLength="3.55" lengthAdjust="spacingAndGlyphs" >0</text>
<text x="106.90" y="354.00" font-size="7.0" font-weight="bold" fill="#151515" textLength="8.20" lengthAdjust="spacingAndGlyphs" >d0</text>
<text x="121.90" y="354.00" font-size="7.0" font-weight="bold" fill="#151515" textLength="8.20" lengthAdjust="spacingAndGlyphs" >d2</text>
<text x="136.90" y="354.00" font-size="7.0" font-weight="bold" fill="#151515" textLength="8.20" lengthAdjust="spacingAndGlyphs" >d4</text>
<text x="152.60" y="354.00" font-size="7.0" font-weight="bold" fill="#151515" textLength="8.20" lengthAdjust="spacingAndGlyphs" >d6</text>
<text x="167.50" y="354.00" font-size="7.0" font-weight="bold" fill="#151515" textLength="8.20" lengthAdjust="spacingAndGlyphs" >d8</text>
<line x1="110.3" y1="346.5" x2="110.3" y2="348.1" stroke="#151515" stroke-width="0.9"/>
<line x1="118.0" y1="346.5" x2="118.0" y2="348.1" stroke="#151515" stroke-width="0.9"/>
<line x1="125.6" y1="346.5" x2="125.6" y2="348.1" stroke="#151515" stroke-width="0.9"/>
<line x1="133.5" y1="346.5" x2="133.5" y2="348.1" stroke="#151515" stroke-width="0.9"/>
<line x1="141.1" y1="346.5" x2="141.1" y2="348.1" stroke="#151515" stroke-width="0.9"/>
<line x1="148.4" y1="346.5" x2="148.4" y2="348.1" stroke="#151515" stroke-width="0.9"/>
<line x1="156.1" y1="346.5" x2="156.1" y2="348.1" stroke="#151515" stroke-width="0.9"/>
<line x1="164.0" y1="346.5" x2="164.0" y2="348.1" stroke="#151515" stroke-width="0.9"/>
<text x="109.00" y="278.20" font-size="10.4" font-weight="bold" textLength="22.40" lengthAdjust="spacingAndGlyphs" >GFI1</text>
<polyline points="121.7,330.3 129.5,331.3 137.5,328.3 144.7,328.5 152.2,325.1 160.1,329.8 167.9,328.0" fill="none" stroke="#2db52d" stroke-width="1.9" stroke-linejoin="round"/>
<polyline points="106.3,331.0 114.3,330.3 121.7,330.3 129.5,315.9 137.5,277.8 144.7,309.4 152.2,324.2 160.1,328.8 167.9,332.0" fill="none" stroke="#d3137b" stroke-width="2.1" stroke-linejoin="round"/>
<rect x="104.5" y="329.2" width="3.5" height="3.5" fill="#d3137b"/>
<rect x="112.5" y="328.6" width="3.5" height="3.5" fill="#d3137b"/>
<rect x="120.0" y="328.6" width="3.5" height="3.5" fill="#d3137b"/>
<rect x="127.8" y="314.1" width="3.5" height="3.5" fill="#d3137b"/>
<rect x="135.8" y="276.1" width="3.5" height="3.5" fill="#d3137b"/>
<rect x="142.9" y="307.6" width="3.5" height="3.5" fill="#d3137b"/>
<rect x="150.4" y="322.4" width="3.5" height="3.5" fill="#d3137b"/>
<rect x="158.3" y="327.1" width="3.5" height="3.5" fill="#d3137b"/>
<rect x="166.2" y="330.2" width="3.5" height="3.5" fill="#d3137b"/>
<path d="M186.3,272.6 V346.1 H256.3" fill="none" stroke="#151515" stroke-width="1.3"/>
<line x1="184.10000000000002" y1="273.2" x2="186.3" y2="273.2" stroke="#151515" stroke-width="0.9"/>
<text x="184.20" y="275.16" font-size="5.6" font-weight="bold" text-anchor="end" fill="#000" textLength="14.20" lengthAdjust="spacingAndGlyphs" >1200</text>
<line x1="184.5" y1="285.2" x2="186.3" y2="285.2" stroke="#151515" stroke-width="0.9"/>
<line x1="184.10000000000002" y1="297.3" x2="186.3" y2="297.3" stroke="#151515" stroke-width="0.9"/>
<text x="184.20" y="299.26" font-size="5.6" font-weight="bold" text-anchor="end" fill="#000" textLength="10.65" lengthAdjust="spacingAndGlyphs" >800</text>
<line x1="184.5" y1="309.4" x2="186.3" y2="309.4" stroke="#151515" stroke-width="0.9"/>
<line x1="184.10000000000002" y1="321.4" x2="186.3" y2="321.4" stroke="#151515" stroke-width="0.9"/>
<text x="184.20" y="323.36" font-size="5.6" font-weight="bold" text-anchor="end" fill="#000" textLength="10.65" lengthAdjust="spacingAndGlyphs" >400</text>
<line x1="184.5" y1="333.8" x2="186.3" y2="333.8" stroke="#151515" stroke-width="0.9"/>
<line x1="184.10000000000002" y1="346.1" x2="186.3" y2="346.1" stroke="#151515" stroke-width="0.9"/>
<text x="181.60" y="348.56" font-size="5.6" font-weight="bold" text-anchor="end" fill="#000" textLength="3.55" lengthAdjust="spacingAndGlyphs" >0</text>
<text x="190.00" y="355.40" font-size="7.0" font-weight="bold" fill="#151515" textLength="8.20" lengthAdjust="spacingAndGlyphs" >d0</text>
<text x="205.80" y="355.40" font-size="7.0" font-weight="bold" fill="#151515" textLength="8.20" lengthAdjust="spacingAndGlyphs" >d2</text>
<text x="220.60" y="355.40" font-size="7.0" font-weight="bold" fill="#151515" textLength="8.20" lengthAdjust="spacingAndGlyphs" >d4</text>
<text x="236.00" y="355.40" font-size="7.0" font-weight="bold" fill="#151515" textLength="8.20" lengthAdjust="spacingAndGlyphs" >d6</text>
<text x="251.20" y="355.40" font-size="7.0" font-weight="bold" fill="#151515" textLength="8.20" lengthAdjust="spacingAndGlyphs" >d8</text>
<line x1="194.3" y1="346.1" x2="194.3" y2="347.70000000000005" stroke="#151515" stroke-width="0.9"/>
<line x1="202.2" y1="346.1" x2="202.2" y2="347.70000000000005" stroke="#151515" stroke-width="0.9"/>
<line x1="210.1" y1="346.1" x2="210.1" y2="347.70000000000005" stroke="#151515" stroke-width="0.9"/>
<line x1="217.8" y1="346.1" x2="217.8" y2="347.70000000000005" stroke="#151515" stroke-width="0.9"/>
<line x1="225.5" y1="346.1" x2="225.5" y2="347.70000000000005" stroke="#151515" stroke-width="0.9"/>
<line x1="233.3" y1="346.1" x2="233.3" y2="347.70000000000005" stroke="#151515" stroke-width="0.9"/>
<line x1="241.1" y1="346.1" x2="241.1" y2="347.70000000000005" stroke="#151515" stroke-width="0.9"/>
<line x1="248.8" y1="346.1" x2="248.8" y2="347.70000000000005" stroke="#151515" stroke-width="0.9"/>
<text x="194.00" y="278.20" font-size="10.4" font-weight="bold" textLength="34.40" lengthAdjust="spacingAndGlyphs" >GATA2</text>
<polyline points="206.2,335.7 214.0,332.0 221.6,322.9 229.4,326.4 237.2,327.9 245.1,335.0 252.6,338.1" fill="none" stroke="#2db52d" stroke-width="1.9" stroke-linejoin="round"/>
<polyline points="190.4,340.5 198.2,335.7 206.2,335.7 214.0,310.9 221.6,281.9 229.4,305.3 237.2,324.6 245.1,333.5 252.6,338.1" fill="none" stroke="#d3137b" stroke-width="2.1" stroke-linejoin="round"/>
<rect x="188.7" y="338.8" width="3.5" height="3.5" fill="#d3137b"/>
<rect x="196.4" y="333.9" width="3.5" height="3.5" fill="#d3137b"/>
<rect x="204.4" y="333.9" width="3.5" height="3.5" fill="#d3137b"/>
<rect x="212.2" y="309.1" width="3.5" height="3.5" fill="#d3137b"/>
<rect x="219.8" y="280.1" width="3.5" height="3.5" fill="#d3137b"/>
<rect x="227.7" y="303.6" width="3.5" height="3.5" fill="#d3137b"/>
<rect x="235.4" y="322.9" width="3.5" height="3.5" fill="#d3137b"/>
<rect x="243.3" y="331.8" width="3.5" height="3.5" fill="#d3137b"/>
<rect x="250.8" y="336.4" width="3.5" height="3.5" fill="#d3137b"/>
<path d="M269.5,273.2 V346.5 H341" fill="none" stroke="#151515" stroke-width="1.3"/>
<line x1="267.3" y1="284.3" x2="269.5" y2="284.3" stroke="#151515" stroke-width="0.9"/>
<text x="267.40" y="286.26" font-size="5.6" font-weight="bold" text-anchor="end" fill="#000" textLength="10.65" lengthAdjust="spacingAndGlyphs" >600</text>
<line x1="267.7" y1="294.7" x2="269.5" y2="294.7" stroke="#151515" stroke-width="0.9"/>
<line x1="267.3" y1="305.1" x2="269.5" y2="305.1" stroke="#151515" stroke-width="0.9"/>
<text x="267.40" y="307.06" font-size="5.6" font-weight="bold" text-anchor="end" fill="#000" textLength="10.65" lengthAdjust="spacingAndGlyphs" >400</text>
<line x1="267.7" y1="315.4" x2="269.5" y2="315.4" stroke="#151515" stroke-width="0.9"/>
<line x1="267.3" y1="325.7" x2="269.5" y2="325.7" stroke="#151515" stroke-width="0.9"/>
<text x="267.40" y="327.66" font-size="5.6" font-weight="bold" text-anchor="end" fill="#000" textLength="10.65" lengthAdjust="spacingAndGlyphs" >200</text>
<line x1="267.7" y1="336.1" x2="269.5" y2="336.1" stroke="#151515" stroke-width="0.9"/>
<line x1="267.3" y1="346.5" x2="269.5" y2="346.5" stroke="#151515" stroke-width="0.9"/>
<text x="264.80" y="348.96" font-size="5.6" font-weight="bold" text-anchor="end" fill="#000" textLength="3.55" lengthAdjust="spacingAndGlyphs" >0</text>
<text x="273.00" y="353.80" font-size="7.0" font-weight="bold" fill="#151515" textLength="8.20" lengthAdjust="spacingAndGlyphs" >d0</text>
<text x="288.80" y="353.80" font-size="7.0" font-weight="bold" fill="#151515" textLength="8.20" lengthAdjust="spacingAndGlyphs" >d2</text>
<text x="304.20" y="353.80" font-size="7.0" font-weight="bold" fill="#151515" textLength="8.20" lengthAdjust="spacingAndGlyphs" >d4</text>
<text x="319.50" y="353.80" font-size="7.0" font-weight="bold" fill="#151515" textLength="8.20" lengthAdjust="spacingAndGlyphs" >d6</text>
<text x="334.50" y="353.80" font-size="7.0" font-weight="bold" fill="#151515" textLength="8.20" lengthAdjust="spacingAndGlyphs" >d8</text>
<line x1="277.8" y1="346.5" x2="277.8" y2="348.1" stroke="#151515" stroke-width="0.9"/>
<line x1="285.9" y1="346.5" x2="285.9" y2="348.1" stroke="#151515" stroke-width="0.9"/>
<line x1="293.9" y1="346.5" x2="293.9" y2="348.1" stroke="#151515" stroke-width="0.9"/>
<line x1="301.8" y1="346.5" x2="301.8" y2="348.1" stroke="#151515" stroke-width="0.9"/>
<line x1="309.8" y1="346.5" x2="309.8" y2="348.1" stroke="#151515" stroke-width="0.9"/>
<line x1="317.7" y1="346.5" x2="317.7" y2="348.1" stroke="#151515" stroke-width="0.9"/>
<line x1="325.5" y1="346.5" x2="325.5" y2="348.1" stroke="#151515" stroke-width="0.9"/>
<line x1="333.8" y1="346.5" x2="333.8" y2="348.1" stroke="#151515" stroke-width="0.9"/>
<text x="277.30" y="278.20" font-size="10.4" font-weight="bold" textLength="47.80" lengthAdjust="spacingAndGlyphs" >NOSTRIN</text>
<polyline points="298.0,338.1 305.5,335.7 314.0,329.4 321.4,329.4 329.6,332.0 337.9,326.0" fill="none" stroke="#2db52d" stroke-width="1.9" stroke-linejoin="round"/>
<polyline points="273.6,335.3 281.9,336.8 289.9,335.7 298.0,338.1 305.5,310.3 314.0,285.6 321.4,313.1 329.6,322.0 337.9,334.4" fill="none" stroke="#d3137b" stroke-width="2.1" stroke-linejoin="round"/>
<rect x="271.9" y="333.6" width="3.5" height="3.5" fill="#d3137b"/>
<rect x="280.1" y="335.1" width="3.5" height="3.5" fill="#d3137b"/>
<rect x="288.1" y="333.9" width="3.5" height="3.5" fill="#d3137b"/>
<rect x="296.2" y="336.4" width="3.5" height="3.5" fill="#d3137b"/>
<rect x="303.8" y="308.6" width="3.5" height="3.5" fill="#d3137b"/>
<rect x="312.2" y="283.9" width="3.5" height="3.5" fill="#d3137b"/>
<rect x="319.6" y="311.4" width="3.5" height="3.5" fill="#d3137b"/>
<rect x="327.9" y="320.2" width="3.5" height="3.5" fill="#d3137b"/>
<rect x="336.1" y="332.6" width="3.5" height="3.5" fill="#d3137b"/>
<path d="M359.9,272.6 V346.5 H428" fill="none" stroke="#151515" stroke-width="1.3"/>
<line x1="357.7" y1="273.2" x2="359.9" y2="273.2" stroke="#151515" stroke-width="0.9"/>
<text x="357.80" y="275.16" font-size="5.6" font-weight="bold" text-anchor="end" fill="#000" textLength="14.20" lengthAdjust="spacingAndGlyphs" >1000</text>
<line x1="357.7" y1="288" x2="359.9" y2="288" stroke="#151515" stroke-width="0.9"/>
<text x="357.80" y="289.96" font-size="5.6" font-weight="bold" text-anchor="end" fill="#000" textLength="10.65" lengthAdjust="spacingAndGlyphs" >800</text>
<line x1="357.7" y1="302.5" x2="359.9" y2="302.5" stroke="#151515" stroke-width="0.9"/>
<text x="357.80" y="304.46" font-size="5.6" font-weight="bold" text-anchor="end" fill="#000" textLength="10.65" lengthAdjust="spacingAndGlyphs" >600</text>
<line x1="357.7" y1="317.2" x2="359.9" y2="317.2" stroke="#151515" stroke-width="0.9"/>
<text x="357.80" y="319.16" font-size="5.6" font-weight="bold" text-anchor="end" fill="#000" textLength="10.65" lengthAdjust="spacingAndGlyphs" >400</text>
<line x1="357.7" y1="331.6" x2="359.9" y2="331.6" stroke="#151515" stroke-width="0.9"/>
<text x="357.80" y="333.56" font-size="5.6" font-weight="bold" text-anchor="end" fill="#000" textLength="10.65" lengthAdjust="spacingAndGlyphs" >200</text>
<line x1="357.7" y1="346.5" x2="359.9" y2="346.5" stroke="#151515" stroke-width="0.9"/>
<text x="355.20" y="348.96" font-size="5.6" font-weight="bold" text-anchor="end" fill="#000" textLength="3.55" lengthAdjust="spacingAndGlyphs" >0</text>
<text x="363.80" y="356.90" font-size="7.0" font-weight="bold" fill="#151515" textLength="8.20" lengthAdjust="spacingAndGlyphs" >d0</text>
<text x="379.00" y="356.90" font-size="7.0" font-weight="bold" fill="#151515" textLength="8.20" lengthAdjust="spacingAndGlyphs" >d2</text>
<text x="394.20" y="356.90" font-size="7.0" font-weight="bold" fill="#151515" textLength="8.20" lengthAdjust="spacingAndGlyphs" >d4</text>
<text x="409.00" y="356.90" font-size="7.0" font-weight="bold" fill="#151515" textLength="8.20" lengthAdjust="spacingAndGlyphs" >d6</text>
<text x="424.40" y="356.90" font-size="7.0" font-weight="bold" fill="#151515" textLength="8.20" lengthAdjust="spacingAndGlyphs" >d8</text>
<line x1="367.8" y1="346.5" x2="367.8" y2="348.1" stroke="#151515" stroke-width="0.9"/>
<line x1="375.2" y1="346.5" x2="375.2" y2="348.1" stroke="#151515" stroke-width="0.9"/>
<line x1="383.0" y1="346.5" x2="383.0" y2="348.1" stroke="#151515" stroke-width="0.9"/>
<line x1="390.9" y1="346.5" x2="390.9" y2="348.1" stroke="#151515" stroke-width="0.9"/>
<line x1="398.4" y1="346.5" x2="398.4" y2="348.1" stroke="#151515" stroke-width="0.9"/>
<line x1="405.9" y1="346.5" x2="405.9" y2="348.1" stroke="#151515" stroke-width="0.9"/>
<line x1="413.6" y1="346.5" x2="413.6" y2="348.1" stroke="#151515" stroke-width="0.9"/>
<line x1="421.5" y1="346.5" x2="421.5" y2="348.1" stroke="#151515" stroke-width="0.9"/>
<text x="369.30" y="278.20" font-size="10.4" font-weight="bold" textLength="41.20" lengthAdjust="spacingAndGlyphs" >TAGLN2</text>
<polyline points="385.5,318.3 394.7,325.7 402.2,322.7 409.6,313.5 417.6,320.1 425.3,327.0" fill="none" stroke="#2db52d" stroke-width="1.9" stroke-linejoin="round"/>
<polyline points="364.1,280.0 371.5,327.0 379.0,315.9 387.0,318.3 394.7,289.0 402.2,315.9 409.6,324.6 417.6,327.6 425.3,327.6" fill="none" stroke="#d3137b" stroke-width="2.1" stroke-linejoin="round"/>
<rect x="362.4" y="278.2" width="3.5" height="3.5" fill="#d3137b"/>
<rect x="369.8" y="325.2" width="3.5" height="3.5" fill="#d3137b"/>
<rect x="377.2" y="314.1" width="3.5" height="3.5" fill="#d3137b"/>
<rect x="385.2" y="316.6" width="3.5" height="3.5" fill="#d3137b"/>
<rect x="392.9" y="287.2" width="3.5" height="3.5" fill="#d3137b"/>
<rect x="400.4" y="314.1" width="3.5" height="3.5" fill="#d3137b"/>
<rect x="407.9" y="322.9" width="3.5" height="3.5" fill="#d3137b"/>
<rect x="415.9" y="325.9" width="3.5" height="3.5" fill="#d3137b"/>
<rect x="423.6" y="325.9" width="3.5" height="3.5" fill="#d3137b"/>
<path d="M444.1,272.6 V346.8 H515" fill="none" stroke="#151515" stroke-width="1.3"/>
<line x1="441.90000000000003" y1="273.2" x2="444.1" y2="273.2" stroke="#151515" stroke-width="0.9"/>
<text x="442.00" y="275.16" font-size="5.6" font-weight="bold" text-anchor="end" fill="#000" textLength="14.20" lengthAdjust="spacingAndGlyphs" >2000</text>
<line x1="442.3" y1="280.6" x2="444.1" y2="280.6" stroke="#151515" stroke-width="0.9"/>
<line x1="441.90000000000003" y1="288" x2="444.1" y2="288" stroke="#151515" stroke-width="0.9"/>
<text x="442.00" y="289.96" font-size="5.6" font-weight="bold" text-anchor="end" fill="#000" textLength="14.20" lengthAdjust="spacingAndGlyphs" >1600</text>
<line x1="442.3" y1="295.2" x2="444.1" y2="295.2" stroke="#151515" stroke-width="0.9"/>
<line x1="441.90000000000003" y1="302.5" x2="444.1" y2="302.5" stroke="#151515" stroke-width="0.9"/>
<text x="442.00" y="304.46" font-size="5.6" font-weight="bold" text-anchor="end" fill="#000" textLength="14.20" lengthAdjust="spacingAndGlyphs" >1200</text>
<line x1="442.3" y1="309.9" x2="444.1" y2="309.9" stroke="#151515" stroke-width="0.9"/>
<line x1="441.90000000000003" y1="317.2" x2="444.1" y2="317.2" stroke="#151515" stroke-width="0.9"/>
<text x="442.00" y="319.16" font-size="5.6" font-weight="bold" text-anchor="end" fill="#000" textLength="10.65" lengthAdjust="spacingAndGlyphs" >800</text>
<line x1="442.3" y1="324.6" x2="444.1" y2="324.6" stroke="#151515" stroke-width="0.9"/>
<line x1="441.90000000000003" y1="332" x2="444.1" y2="332" stroke="#151515" stroke-width="0.9"/>
<text x="442.00" y="333.96" font-size="5.6" font-weight="bold" text-anchor="end" fill="#000" textLength="10.65" lengthAdjust="spacingAndGlyphs" >400</text>
<line x1="442.3" y1="339.4" x2="444.1" y2="339.4" stroke="#151515" stroke-width="0.9"/>
<line x1="441.90000000000003" y1="346.8" x2="444.1" y2="346.8" stroke="#151515" stroke-width="0.9"/>
<text x="439.40" y="349.26" font-size="5.6" font-weight="bold" text-anchor="end" fill="#000" textLength="3.55" lengthAdjust="spacingAndGlyphs" >0</text>
<text x="447.70" y="355.80" font-size="7.0" font-weight="bold" fill="#151515" textLength="8.20" lengthAdjust="spacingAndGlyphs" >d0</text>
<text x="463.10" y="355.80" font-size="7.0" font-weight="bold" fill="#151515" textLength="8.20" lengthAdjust="spacingAndGlyphs" >d2</text>
<text x="478.50" y="355.80" font-size="7.0" font-weight="bold" fill="#151515" textLength="8.20" lengthAdjust="spacingAndGlyphs" >d4</text>
<text x="493.70" y="355.80" font-size="7.0" font-weight="bold" fill="#151515" textLength="8.20" lengthAdjust="spacingAndGlyphs" >d6</text>
<text x="508.60" y="355.80" font-size="7.0" font-weight="bold" fill="#151515" textLength="8.20" lengthAdjust="spacingAndGlyphs" >d8</text>
<line x1="452.2" y1="346.8" x2="452.2" y2="348.40000000000003" stroke="#151515" stroke-width="0.9"/>
<line x1="460.1" y1="346.8" x2="460.1" y2="348.40000000000003" stroke="#151515" stroke-width="0.9"/>
<line x1="468.0" y1="346.8" x2="468.0" y2="348.40000000000003" stroke="#151515" stroke-width="0.9"/>
<line x1="475.9" y1="346.8" x2="475.9" y2="348.40000000000003" stroke="#151515" stroke-width="0.9"/>
<line x1="483.7" y1="346.8" x2="483.7" y2="348.40000000000003" stroke="#151515" stroke-width="0.9"/>
<line x1="491.4" y1="346.8" x2="491.4" y2="348.40000000000003" stroke="#151515" stroke-width="0.9"/>
<line x1="499.1" y1="346.8" x2="499.1" y2="348.40000000000003" stroke="#151515" stroke-width="0.9"/>
<line x1="507.1" y1="346.8" x2="507.1" y2="348.40000000000003" stroke="#151515" stroke-width="0.9"/>
<text x="452.50" y="278.20" font-size="10.4" font-weight="bold" textLength="22.60" lengthAdjust="spacingAndGlyphs" >MYC</text>
<polyline points="464.0,305.3 479.4,329.4 495.1,330.1 503.0,328.3 511.3,325.1" fill="none" stroke="#2db52d" stroke-width="1.9" stroke-linejoin="round"/>
<polyline points="448.2,281.2 456.2,326.4 464.0,305.3 472.0,294.9 479.7,279.7 487.7,303.4 495.1,320.1 503.0,329.8 511.3,327.6" fill="none" stroke="#d3137b" stroke-width="2.1" stroke-linejoin="round"/>
<rect x="446.4" y="279.4" width="3.5" height="3.5" fill="#d3137b"/>
<rect x="454.4" y="324.6" width="3.5" height="3.5" fill="#d3137b"/>
<rect x="462.2" y="303.6" width="3.5" height="3.5" fill="#d3137b"/>
<rect x="470.2" y="293.1" width="3.5" height="3.5" fill="#d3137b"/>
<rect x="477.9" y="277.9" width="3.5" height="3.5" fill="#d3137b"/>
<rect x="485.9" y="301.6" width="3.5" height="3.5" fill="#d3137b"/>
<rect x="493.4" y="318.4" width="3.5" height="3.5" fill="#d3137b"/>
<rect x="501.2" y="328.1" width="3.5" height="3.5" fill="#d3137b"/>
<rect x="509.6" y="325.9" width="3.5" height="3.5" fill="#d3137b"/>
<path d="M17.3,381 V458.4 H88" fill="none" stroke="#151515" stroke-width="1.3"/>
<line x1="15.100000000000001" y1="389.3" x2="17.3" y2="389.3" stroke="#151515" stroke-width="0.9"/>
<text x="15.20" y="391.26" font-size="5.6" font-weight="bold" text-anchor="end" fill="#000" textLength="14.20" lengthAdjust="spacingAndGlyphs" >1600</text>
<line x1="15.5" y1="397.6" x2="17.3" y2="397.6" stroke="#151515" stroke-width="0.9"/>
<line x1="15.100000000000001" y1="406" x2="17.3" y2="406" stroke="#151515" stroke-width="0.9"/>
<text x="15.20" y="407.96" font-size="5.6" font-weight="bold" text-anchor="end" fill="#000" textLength="14.20" lengthAdjust="spacingAndGlyphs" >1200</text>
<line x1="15.5" y1="414.6" x2="17.3" y2="414.6" stroke="#151515" stroke-width="0.9"/>
<line x1="15.100000000000001" y1="423.3" x2="17.3" y2="423.3" stroke="#151515" stroke-width="0.9"/>
<text x="15.20" y="425.26" font-size="5.6" font-weight="bold" text-anchor="end" fill="#000" textLength="10.65" lengthAdjust="spacingAndGlyphs" >800</text>
<line x1="15.5" y1="432.0" x2="17.3" y2="432.0" stroke="#151515" stroke-width="0.9"/>
<line x1="15.100000000000001" y1="440.7" x2="17.3" y2="440.7" stroke="#151515" stroke-width="0.9"/>
<text x="15.20" y="442.66" font-size="5.6" font-weight="bold" text-anchor="end" fill="#000" textLength="10.65" lengthAdjust="spacingAndGlyphs" >400</text>
<line x1="15.5" y1="449.4" x2="17.3" y2="449.4" stroke="#151515" stroke-width="0.9"/>
<line x1="15.100000000000001" y1="458" x2="17.3" y2="458" stroke="#151515" stroke-width="0.9"/>
<text x="12.60" y="460.46" font-size="5.6" font-weight="bold" text-anchor="end" fill="#000" textLength="3.55" lengthAdjust="spacingAndGlyphs" >0</text>
<text x="21.90" y="466.80" font-size="7.0" font-weight="bold" fill="#151515" textLength="8.20" lengthAdjust="spacingAndGlyphs" >d0</text>
<text x="37.30" y="466.80" font-size="7.0" font-weight="bold" fill="#151515" textLength="8.20" lengthAdjust="spacingAndGlyphs" >d2</text>
<text x="53.40" y="466.80" font-size="7.0" font-weight="bold" fill="#151515" textLength="8.20" lengthAdjust="spacingAndGlyphs" >d4</text>
<text x="68.40" y="466.80" font-size="7.0" font-weight="bold" fill="#151515" textLength="8.20" lengthAdjust="spacingAndGlyphs" >d6</text>
<text x="84.00" y="466.80" font-size="7.0" font-weight="bold" fill="#151515" textLength="8.20" lengthAdjust="spacingAndGlyphs" >d8</text>
<line x1="25.3" y1="458.4" x2="25.3" y2="460.0" stroke="#151515" stroke-width="0.9"/>
<line x1="33.2" y1="458.4" x2="33.2" y2="460.0" stroke="#151515" stroke-width="0.9"/>
<line x1="41.3" y1="458.4" x2="41.3" y2="460.0" stroke="#151515" stroke-width="0.9"/>
<line x1="49.5" y1="458.4" x2="49.5" y2="460.0" stroke="#151515" stroke-width="0.9"/>
<line x1="57.5" y1="458.4" x2="57.5" y2="460.0" stroke="#151515" stroke-width="0.9"/>
<line x1="65.6" y1="458.4" x2="65.6" y2="460.0" stroke="#151515" stroke-width="0.9"/>
<line x1="73.8" y1="458.4" x2="73.8" y2="460.0" stroke="#151515" stroke-width="0.9"/>
<line x1="81.8" y1="458.4" x2="81.8" y2="460.0" stroke="#151515" stroke-width="0.9"/>
<text x="24.10" y="392.50" font-size="10.4" font-weight="bold" textLength="23.20" lengthAdjust="spacingAndGlyphs" >LYL1</text>
<polyline points="37.1,451.5 45.5,446.3 53.4,439.4 61.6,437.9 69.6,439.0 77.9,439.4 85.7,435.1" fill="none" stroke="#2db52d" stroke-width="1.9" stroke-linejoin="round"/>
<polyline points="21.3,453.0 29.3,453.3 37.1,451.5 45.5,445.0 53.4,399.5 61.6,390.3 69.6,422.7 77.9,430.1 85.7,441.3" fill="none" stroke="#d3137b" stroke-width="2.1" stroke-linejoin="round"/>
<rect x="19.6" y="451.2" width="3.5" height="3.5" fill="#d3137b"/>
<rect x="27.6" y="451.6" width="3.5" height="3.5" fill="#d3137b"/>
<rect x="35.4" y="449.8" width="3.5" height="3.5" fill="#d3137b"/>
<rect x="43.8" y="443.2" width="3.5" height="3.5" fill="#d3137b"/>
<rect x="51.6" y="397.8" width="3.5" height="3.5" fill="#d3137b"/>
<rect x="59.9" y="388.6" width="3.5" height="3.5" fill="#d3137b"/>
<rect x="67.8" y="420.9" width="3.5" height="3.5" fill="#d3137b"/>
<rect x="76.2" y="428.4" width="3.5" height="3.5" fill="#d3137b"/>
<rect x="84.0" y="439.6" width="3.5" height="3.5" fill="#d3137b"/>
<path d="M102.5,380.2 V458.8 H173" fill="none" stroke="#151515" stroke-width="1.3"/>
<line x1="100.3" y1="381.2" x2="102.5" y2="381.2" stroke="#151515" stroke-width="0.9"/>
<text x="100.40" y="383.16" font-size="5.6" font-weight="bold" text-anchor="end" fill="#000" textLength="14.20" lengthAdjust="spacingAndGlyphs" >1200</text>
<line x1="100.7" y1="394.1" x2="102.5" y2="394.1" stroke="#151515" stroke-width="0.9"/>
<line x1="100.3" y1="407" x2="102.5" y2="407" stroke="#151515" stroke-width="0.9"/>
<text x="100.40" y="408.96" font-size="5.6" font-weight="bold" text-anchor="end" fill="#000" textLength="10.65" lengthAdjust="spacingAndGlyphs" >800</text>
<line x1="100.7" y1="419.8" x2="102.5" y2="419.8" stroke="#151515" stroke-width="0.9"/>
<line x1="100.3" y1="432.6" x2="102.5" y2="432.6" stroke="#151515" stroke-width="0.9"/>
<text x="100.40" y="434.56" font-size="5.6" font-weight="bold" text-anchor="end" fill="#000" textLength="10.65" lengthAdjust="spacingAndGlyphs" >400</text>
<line x1="100.7" y1="445.7" x2="102.5" y2="445.7" stroke="#151515" stroke-width="0.9"/>
<line x1="100.3" y1="458.8" x2="102.5" y2="458.8" stroke="#151515" stroke-width="0.9"/>
<text x="97.80" y="461.26" font-size="5.6" font-weight="bold" text-anchor="end" fill="#000" textLength="3.55" lengthAdjust="spacingAndGlyphs" >0</text>
<text x="106.90" y="466.20" font-size="7.0" font-weight="bold" fill="#151515" textLength="8.20" lengthAdjust="spacingAndGlyphs" >d0</text>
<text x="122.30" y="466.20" font-size="7.0" font-weight="bold" fill="#151515" textLength="8.20" lengthAdjust="spacingAndGlyphs" >d2</text>
<text x="138.20" y="466.20" font-size="7.0" font-weight="bold" fill="#151515" textLength="8.20" lengthAdjust="spacingAndGlyphs" >d4</text>
<text x="153.70" y="466.20" font-size="7.0" font-weight="bold" fill="#151515" textLength="8.20" lengthAdjust="spacingAndGlyphs" >d6</text>
<text x="167.80" y="466.20" font-size="7.0" font-weight="bold" fill="#151515" textLength="8.20" lengthAdjust="spacingAndGlyphs" >d8</text>
<line x1="110.0" y1="458.8" x2="110.0" y2="460.40000000000003" stroke="#151515" stroke-width="0.9"/>
<line x1="118.2" y1="458.8" x2="118.2" y2="460.40000000000003" stroke="#151515" stroke-width="0.9"/>
<line x1="126.2" y1="458.8" x2="126.2" y2="460.40000000000003" stroke="#151515" stroke-width="0.9"/>
<line x1="134.0" y1="458.8" x2="134.0" y2="460.40000000000003" stroke="#151515" stroke-width="0.9"/>
<line x1="141.9" y1="458.8" x2="141.9" y2="460.40000000000003" stroke="#151515" stroke-width="0.9"/>
<line x1="150.1" y1="458.8" x2="150.1" y2="460.40000000000003" stroke="#151515" stroke-width="0.9"/>
<line x1="158.2" y1="458.8" x2="158.2" y2="460.40000000000003" stroke="#151515" stroke-width="0.9"/>
<line x1="166.2" y1="458.8" x2="166.2" y2="460.40000000000003" stroke="#151515" stroke-width="0.9"/>
<text x="113.10" y="392.50" font-size="10.4" font-weight="bold" textLength="22.70" lengthAdjust="spacingAndGlyphs" >MYB</text>
<polyline points="130.2,440.3 137.8,440.7 146.1,442.5 154.2,445.5 162.2,449.0 170.3,443.2" fill="none" stroke="#2db52d" stroke-width="1.9" stroke-linejoin="round"/>
<polyline points="106.0,446.2 114.1,440.3 122.2,447.7 130.2,440.3 137.8,399.2 146.1,388.4 154.2,416.1 162.2,440.0 170.3,450.0" fill="none" stroke="#d3137b" stroke-width="2.1" stroke-linejoin="round"/>
<rect x="104.2" y="444.4" width="3.5" height="3.5" fill="#d3137b"/>
<rect x="112.3" y="438.6" width="3.5" height="3.5" fill="#d3137b"/>
<rect x="120.5" y="445.9" width="3.5" height="3.5" fill="#d3137b"/>
<rect x="128.4" y="438.6" width="3.5" height="3.5" fill="#d3137b"/>
<rect x="136.1" y="397.4" width="3.5" height="3.5" fill="#d3137b"/>
<rect x="144.3" y="386.6" width="3.5" height="3.5" fill="#d3137b"/>
<rect x="152.4" y="414.4" width="3.5" height="3.5" fill="#d3137b"/>
<rect x="160.4" y="438.2" width="3.5" height="3.5" fill="#d3137b"/>
<rect x="168.6" y="448.2" width="3.5" height="3.5" fill="#d3137b"/>
<path d="M186.5,384.1 V458.5 H257" fill="none" stroke="#151515" stroke-width="1.3"/>
<line x1="184.3" y1="395.3" x2="186.5" y2="395.3" stroke="#151515" stroke-width="0.9"/>
<text x="184.40" y="397.26" font-size="5.6" font-weight="bold" text-anchor="end" fill="#000" textLength="10.65" lengthAdjust="spacingAndGlyphs" >300</text>
<line x1="184.7" y1="406.0" x2="186.5" y2="406.0" stroke="#151515" stroke-width="0.9"/>
<line x1="184.3" y1="416.7" x2="186.5" y2="416.7" stroke="#151515" stroke-width="0.9"/>
<text x="184.40" y="418.66" font-size="5.6" font-weight="bold" text-anchor="end" fill="#000" textLength="10.65" lengthAdjust="spacingAndGlyphs" >200</text>
<line x1="184.7" y1="427.0" x2="186.5" y2="427.0" stroke="#151515" stroke-width="0.9"/>
<line x1="184.3" y1="437.4" x2="186.5" y2="437.4" stroke="#151515" stroke-width="0.9"/>
<text x="184.40" y="439.36" font-size="5.6" font-weight="bold" text-anchor="end" fill="#000" textLength="10.65" lengthAdjust="spacingAndGlyphs" >100</text>
<line x1="184.7" y1="447.8" x2="186.5" y2="447.8" stroke="#151515" stroke-width="0.9"/>
<line x1="184.3" y1="458.2" x2="186.5" y2="458.2" stroke="#151515" stroke-width="0.9"/>
<text x="181.80" y="460.66" font-size="5.6" font-weight="bold" text-anchor="end" fill="#000" textLength="3.55" lengthAdjust="spacingAndGlyphs" >0</text>
<text x="191.20" y="466.60" font-size="7.0" font-weight="bold" fill="#151515" textLength="8.20" lengthAdjust="spacingAndGlyphs" >d0</text>
<text x="206.90" y="466.60" font-size="7.0" font-weight="bold" fill="#151515" textLength="8.20" lengthAdjust="spacingAndGlyphs" >d2</text>
<text x="222.50" y="466.60" font-size="7.0" font-weight="bold" fill="#151515" textLength="8.20" lengthAdjust="spacingAndGlyphs" >d4</text>
<text x="238.00" y="466.60" font-size="7.0" font-weight="bold" fill="#151515" textLength="8.20" lengthAdjust="spacingAndGlyphs" >d6</text>
<text x="253.50" y="466.60" font-size="7.0" font-weight="bold" fill="#151515" textLength="8.20" lengthAdjust="spacingAndGlyphs" >d8</text>
<line x1="194.2" y1="458.5" x2="194.2" y2="460.1" stroke="#151515" stroke-width="0.9"/>
<line x1="202.2" y1="458.5" x2="202.2" y2="460.1" stroke="#151515" stroke-width="0.9"/>
<line x1="210.2" y1="458.5" x2="210.2" y2="460.1" stroke="#151515" stroke-width="0.9"/>
<line x1="218.1" y1="458.5" x2="218.1" y2="460.1" stroke="#151515" stroke-width="0.9"/>
<line x1="225.8" y1="458.5" x2="225.8" y2="460.1" stroke="#151515" stroke-width="0.9"/>
<line x1="233.6" y1="458.5" x2="233.6" y2="460.1" stroke="#151515" stroke-width="0.9"/>
<line x1="241.4" y1="458.5" x2="241.4" y2="460.1" stroke="#151515" stroke-width="0.9"/>
<line x1="249.2" y1="458.5" x2="249.2" y2="460.1" stroke="#151515" stroke-width="0.9"/>
<text x="194.20" y="392.50" font-size="10.4" font-weight="bold" textLength="27.80" lengthAdjust="spacingAndGlyphs" >TESC</text>
<polyline points="214.2,436.0 222.0,427.1 229.7,433.5 237.5,429.1 245.3,429.1 253.0,426.4" fill="none" stroke="#2db52d" stroke-width="1.9" stroke-linejoin="round"/>
<polyline points="190.4,417.5 198.1,418.0 206.3,427.1 214.2,438.8 222.0,401.5 229.7,388.4 237.5,421.9 245.3,424.4 253.0,429.7" fill="none" stroke="#d3137b" stroke-width="2.1" stroke-linejoin="round"/>
<rect x="188.7" y="415.8" width="3.5" height="3.5" fill="#d3137b"/>
<rect x="196.3" y="416.2" width="3.5" height="3.5" fill="#d3137b"/>
<rect x="204.6" y="425.4" width="3.5" height="3.5" fill="#d3137b"/>
<rect x="212.4" y="437.1" width="3.5" height="3.5" fill="#d3137b"/>
<rect x="220.2" y="399.8" width="3.5" height="3.5" fill="#d3137b"/>
<rect x="227.9" y="386.6" width="3.5" height="3.5" fill="#d3137b"/>
<rect x="235.8" y="420.1" width="3.5" height="3.5" fill="#d3137b"/>
<rect x="243.6" y="422.6" width="3.5" height="3.5" fill="#d3137b"/>
<rect x="251.2" y="427.9" width="3.5" height="3.5" fill="#d3137b"/>
<path d="M269,385 V457.8 H341" fill="none" stroke="#151515" stroke-width="1.3"/>
<line x1="266.8" y1="388.4" x2="269" y2="388.4" stroke="#151515" stroke-width="0.9"/>
<text x="266.90" y="390.36" font-size="5.6" font-weight="bold" text-anchor="end" fill="#000" textLength="10.65" lengthAdjust="spacingAndGlyphs" >600</text>
<line x1="267.2" y1="400.0" x2="269" y2="400.0" stroke="#151515" stroke-width="0.9"/>
<line x1="266.8" y1="411.6" x2="269" y2="411.6" stroke="#151515" stroke-width="0.9"/>
<text x="266.90" y="413.56" font-size="5.6" font-weight="bold" text-anchor="end" fill="#000" textLength="10.65" lengthAdjust="spacingAndGlyphs" >400</text>
<line x1="267.2" y1="423.1" x2="269" y2="423.1" stroke="#151515" stroke-width="0.9"/>
<line x1="266.8" y1="434.5" x2="269" y2="434.5" stroke="#151515" stroke-width="0.9"/>
<text x="266.90" y="436.46" font-size="5.6" font-weight="bold" text-anchor="end" fill="#000" textLength="10.65" lengthAdjust="spacingAndGlyphs" >200</text>
<line x1="267.2" y1="446.1" x2="269" y2="446.1" stroke="#151515" stroke-width="0.9"/>
<line x1="266.8" y1="457.8" x2="269" y2="457.8" stroke="#151515" stroke-width="0.9"/>
<text x="264.30" y="460.26" font-size="5.6" font-weight="bold" text-anchor="end" fill="#000" textLength="3.55" lengthAdjust="spacingAndGlyphs" >0</text>
<text x="275.70" y="466.50" font-size="7.0" font-weight="bold" fill="#151515" textLength="8.20" lengthAdjust="spacingAndGlyphs" >d0</text>
<text x="291.50" y="466.50" font-size="7.0" font-weight="bold" fill="#151515" textLength="8.20" lengthAdjust="spacingAndGlyphs" >d2</text>
<text x="307.60" y="466.50" font-size="7.0" font-weight="bold" fill="#151515" textLength="8.20" lengthAdjust="spacingAndGlyphs" >d4</text>
<text x="323.10" y="466.50" font-size="7.0" font-weight="bold" fill="#151515" textLength="8.20" lengthAdjust="spacingAndGlyphs" >d6</text>
<text x="338.00" y="466.50" font-size="7.0" font-weight="bold" fill="#151515" textLength="8.20" lengthAdjust="spacingAndGlyphs" >d8</text>
<line x1="276.7" y1="457.8" x2="276.7" y2="459.40000000000003" stroke="#151515" stroke-width="0.9"/>
<line x1="284.5" y1="457.8" x2="284.5" y2="459.40000000000003" stroke="#151515" stroke-width="0.9"/>
<line x1="292.5" y1="457.8" x2="292.5" y2="459.40000000000003" stroke="#151515" stroke-width="0.9"/>
<line x1="300.6" y1="457.8" x2="300.6" y2="459.40000000000003" stroke="#151515" stroke-width="0.9"/>
<line x1="308.4" y1="457.8" x2="308.4" y2="459.40000000000003" stroke="#151515" stroke-width="0.9"/>
<line x1="316.1" y1="457.8" x2="316.1" y2="459.40000000000003" stroke="#151515" stroke-width="0.9"/>
<line x1="324.1" y1="457.8" x2="324.1" y2="459.40000000000003" stroke="#151515" stroke-width="0.9"/>
<line x1="332.6" y1="457.8" x2="332.6" y2="459.40000000000003" stroke="#151515" stroke-width="0.9"/>
<text x="283.10" y="392.50" font-size="10.4" font-weight="bold" textLength="42.70" lengthAdjust="spacingAndGlyphs" >PECAM1</text>
<polyline points="288.4,444.6 296.7,449.0 304.5,443.2 312.2,441.9 320.0,434.1 328.3,434.1 336.8,414.7" fill="none" stroke="#2db52d" stroke-width="1.9" stroke-linejoin="round"/>
<polyline points="272.8,446.2 280.6,441.9 288.4,444.2 296.7,443.2 304.5,428.7 312.2,396.1 320.0,412.2 328.3,427.7 336.8,425.2" fill="none" stroke="#d3137b" stroke-width="1.8" stroke-linejoin="round"/>
<path d="M359.4,384.1 V458.2 H430" fill="none" stroke="#151515" stroke-width="1.3"/>
<line x1="357.2" y1="385" x2="359.4" y2="385" stroke="#151515" stroke-width="0.9"/>
<text x="357.30" y="386.96" font-size="5.6" font-weight="bold" text-anchor="end" fill="#000" textLength="10.65" lengthAdjust="spacingAndGlyphs" >800</text>
<line x1="357.59999999999997" y1="394.2" x2="359.4" y2="394.2" stroke="#151515" stroke-width="0.9"/>
<line x1="357.2" y1="403.5" x2="359.4" y2="403.5" stroke="#151515" stroke-width="0.9"/>
<text x="357.30" y="405.46" font-size="5.6" font-weight="bold" text-anchor="end" fill="#000" textLength="10.65" lengthAdjust="spacingAndGlyphs" >600</text>
<line x1="357.59999999999997" y1="412.7" x2="359.4" y2="412.7" stroke="#151515" stroke-width="0.9"/>
<line x1="357.2" y1="421.9" x2="359.4" y2="421.9" stroke="#151515" stroke-width="0.9"/>
<text x="357.30" y="423.86" font-size="5.6" font-weight="bold" text-anchor="end" fill="#000" textLength="10.65" lengthAdjust="spacingAndGlyphs" >400</text>
<line x1="357.59999999999997" y1="431.1" x2="359.4" y2="431.1" stroke="#151515" stroke-width="0.9"/>
<line x1="357.2" y1="440.3" x2="359.4" y2="440.3" stroke="#151515" stroke-width="0.9"/>
<text x="357.30" y="442.26" font-size="5.6" font-weight="bold" text-anchor="end" fill="#000" textLength="10.65" lengthAdjust="spacingAndGlyphs" >200</text>
<line x1="357.59999999999997" y1="449.2" x2="359.4" y2="449.2" stroke="#151515" stroke-width="0.9"/>
<line x1="357.2" y1="458.2" x2="359.4" y2="458.2" stroke="#151515" stroke-width="0.9"/>
<text x="354.70" y="460.66" font-size="5.6" font-weight="bold" text-anchor="end" fill="#000" textLength="3.55" lengthAdjust="spacingAndGlyphs" >0</text>
<text x="363.00" y="466.60" font-size="7.0" font-weight="bold" fill="#151515" textLength="8.20" lengthAdjust="spacingAndGlyphs" >d0</text>
<text x="378.40" y="466.60" font-size="7.0" font-weight="bold" fill="#151515" textLength="8.20" lengthAdjust="spacingAndGlyphs" >d2</text>
<text x="393.90" y="466.60" font-size="7.0" font-weight="bold" fill="#151515" textLength="8.20" lengthAdjust="spacingAndGlyphs" >d4</text>
<text x="409.40" y="466.60" font-size="7.0" font-weight="bold" fill="#151515" textLength="8.20" lengthAdjust="spacingAndGlyphs" >d6</text>
<text x="424.90" y="466.60" font-size="7.0" font-weight="bold" fill="#151515" textLength="8.20" lengthAdjust="spacingAndGlyphs" >d8</text>
<line x1="366.9" y1="458.2" x2="366.9" y2="459.8" stroke="#151515" stroke-width="0.9"/>
<line x1="375.1" y1="458.2" x2="375.1" y2="459.8" stroke="#151515" stroke-width="0.9"/>
<line x1="383.4" y1="458.2" x2="383.4" y2="459.8" stroke="#151515" stroke-width="0.9"/>
<line x1="391.4" y1="458.2" x2="391.4" y2="459.8" stroke="#151515" stroke-width="0.9"/>
<line x1="399.1" y1="458.2" x2="399.1" y2="459.8" stroke="#151515" stroke-width="0.9"/>
<line x1="406.9" y1="458.2" x2="406.9" y2="459.8" stroke="#151515" stroke-width="0.9"/>
<line x1="415.0" y1="458.2" x2="415.0" y2="459.8" stroke="#151515" stroke-width="0.9"/>
<line x1="423.2" y1="458.2" x2="423.2" y2="459.8" stroke="#151515" stroke-width="0.9"/>
<text x="369.10" y="392.50" font-size="10.4" font-weight="bold" textLength="33.90" lengthAdjust="spacingAndGlyphs" >SOX18</text>
<polyline points="379.2,434.1 387.5,437.4 395.3,441.9 403.0,438.0 410.8,429.7 419.1,416.7 427.3,396.1" fill="none" stroke="#2db52d" stroke-width="1.9" stroke-linejoin="round"/>
<polyline points="362.9,440.3 371.0,444.6 379.2,434.1 387.5,440.3 395.3,431.0 403.0,398.1 410.8,405.8 419.1,412.2 427.3,405.8" fill="none" stroke="#d3137b" stroke-width="1.8" stroke-linejoin="round"/>
<path d="M444,383.7 V458.1 H516" fill="none" stroke="#151515" stroke-width="1.3"/>
<line x1="441.8" y1="391.8" x2="444" y2="391.8" stroke="#151515" stroke-width="0.9"/>
<text x="441.90" y="393.76" font-size="5.6" font-weight="bold" text-anchor="end" fill="#000" textLength="10.65" lengthAdjust="spacingAndGlyphs" >800</text>
<line x1="442.2" y1="400.1" x2="444" y2="400.1" stroke="#151515" stroke-width="0.9"/>
<line x1="441.8" y1="408.3" x2="444" y2="408.3" stroke="#151515" stroke-width="0.9"/>
<text x="441.90" y="410.26" font-size="5.6" font-weight="bold" text-anchor="end" fill="#000" textLength="10.65" lengthAdjust="spacingAndGlyphs" >600</text>
<line x1="442.2" y1="416.6" x2="444" y2="416.6" stroke="#151515" stroke-width="0.9"/>
<line x1="441.8" y1="424.8" x2="444" y2="424.8" stroke="#151515" stroke-width="0.9"/>
<text x="441.90" y="426.76" font-size="5.6" font-weight="bold" text-anchor="end" fill="#000" textLength="10.65" lengthAdjust="spacingAndGlyphs" >400</text>
<line x1="442.2" y1="433.1" x2="444" y2="433.1" stroke="#151515" stroke-width="0.9"/>
<line x1="441.8" y1="441.3" x2="444" y2="441.3" stroke="#151515" stroke-width="0.9"/>
<text x="441.90" y="443.26" font-size="5.6" font-weight="bold" text-anchor="end" fill="#000" textLength="10.65" lengthAdjust="spacingAndGlyphs" >200</text>
<line x1="442.2" y1="449.6" x2="444" y2="449.6" stroke="#151515" stroke-width="0.9"/>
<line x1="441.8" y1="457.8" x2="444" y2="457.8" stroke="#151515" stroke-width="0.9"/>
<text x="439.30" y="460.26" font-size="5.6" font-weight="bold" text-anchor="end" fill="#000" textLength="3.55" lengthAdjust="spacingAndGlyphs" >0</text>
<text x="449.90" y="466.80" font-size="7.0" font-weight="bold" fill="#151515" textLength="8.20" lengthAdjust="spacingAndGlyphs" >d0</text>
<text x="465.30" y="466.80" font-size="7.0" font-weight="bold" fill="#151515" textLength="8.20" lengthAdjust="spacingAndGlyphs" >d2</text>
<text x="481.20" y="466.80" font-size="7.0" font-weight="bold" fill="#151515" textLength="8.20" lengthAdjust="spacingAndGlyphs" >d4</text>
<text x="496.70" y="466.80" font-size="7.0" font-weight="bold" fill="#151515" textLength="8.20" lengthAdjust="spacingAndGlyphs" >d6</text>
<text x="511.90" y="466.80" font-size="7.0" font-weight="bold" fill="#151515" textLength="8.20" lengthAdjust="spacingAndGlyphs" >d8</text>
<line x1="451.8" y1="458.1" x2="451.8" y2="459.70000000000005" stroke="#151515" stroke-width="0.9"/>
<line x1="459.5" y1="458.1" x2="459.5" y2="459.70000000000005" stroke="#151515" stroke-width="0.9"/>
<line x1="467.4" y1="458.1" x2="467.4" y2="459.70000000000005" stroke="#151515" stroke-width="0.9"/>
<line x1="475.2" y1="458.1" x2="475.2" y2="459.70000000000005" stroke="#151515" stroke-width="0.9"/>
<line x1="482.8" y1="458.1" x2="482.8" y2="459.70000000000005" stroke="#151515" stroke-width="0.9"/>
<line x1="490.5" y1="458.1" x2="490.5" y2="459.70000000000005" stroke="#151515" stroke-width="0.9"/>
<line x1="498.3" y1="458.1" x2="498.3" y2="459.70000000000005" stroke="#151515" stroke-width="0.9"/>
<line x1="506.0" y1="458.1" x2="506.0" y2="459.70000000000005" stroke="#151515" stroke-width="0.9"/>
<text x="454.50" y="392.50" font-size="10.4" font-weight="bold" textLength="34.50" lengthAdjust="spacingAndGlyphs" >ALAS2</text>
<polyline points="463.4,448.4 471.5,443.2 478.9,435.5 486.7,445.7 494.4,445.2 502.2,449.6 509.9,450.0" fill="none" stroke="#2db52d" stroke-width="1.9" stroke-linejoin="round"/>
<polyline points="447.9,449.6 455.6,450.4 463.4,448.4 471.5,445.2 478.9,439.9 486.7,393.4 494.4,423.8 502.2,445.7 509.9,450.4" fill="none" stroke="#d3137b" stroke-width="2.1" stroke-linejoin="round"/>
<rect x="446.1" y="447.9" width="3.5" height="3.5" fill="#d3137b"/>
<rect x="453.9" y="448.6" width="3.5" height="3.5" fill="#d3137b"/>
<rect x="461.6" y="446.6" width="3.5" height="3.5" fill="#d3137b"/>
<rect x="469.8" y="443.4" width="3.5" height="3.5" fill="#d3137b"/>
<rect x="477.1" y="438.1" width="3.5" height="3.5" fill="#d3137b"/>
<rect x="484.9" y="391.6" width="3.5" height="3.5" fill="#d3137b"/>
<rect x="492.6" y="422.1" width="3.5" height="3.5" fill="#d3137b"/>
<rect x="500.4" y="443.9" width="3.5" height="3.5" fill="#d3137b"/>
<rect x="508.1" y="448.6" width="3.5" height="3.5" fill="#d3137b"/>
<path d="M19,490.5 V563.5 H87" fill="none" stroke="#151515" stroke-width="1.3"/>
<line x1="16.8" y1="491.3" x2="19" y2="491.3" stroke="#151515" stroke-width="0.9"/>
<text x="16.90" y="493.26" font-size="5.6" font-weight="bold" text-anchor="end" fill="#000" textLength="14.20" lengthAdjust="spacingAndGlyphs" >5000</text>
<line x1="16.8" y1="506" x2="19" y2="506" stroke="#151515" stroke-width="0.9"/>
<text x="16.90" y="507.96" font-size="5.6" font-weight="bold" text-anchor="end" fill="#000" textLength="14.20" lengthAdjust="spacingAndGlyphs" >4000</text>
<line x1="16.8" y1="520.5" x2="19" y2="520.5" stroke="#151515" stroke-width="0.9"/>
<text x="16.90" y="522.46" font-size="5.6" font-weight="bold" text-anchor="end" fill="#000" textLength="14.20" lengthAdjust="spacingAndGlyphs" >3000</text>
<line x1="16.8" y1="535.1" x2="19" y2="535.1" stroke="#151515" stroke-width="0.9"/>
<text x="16.90" y="537.06" font-size="5.6" font-weight="bold" text-anchor="end" fill="#000" textLength="14.20" lengthAdjust="spacingAndGlyphs" >2000</text>
<line x1="16.8" y1="549.2" x2="19" y2="549.2" stroke="#151515" stroke-width="0.9"/>
<text x="16.90" y="551.16" font-size="5.6" font-weight="bold" text-anchor="end" fill="#000" textLength="14.20" lengthAdjust="spacingAndGlyphs" >1000</text>
<line x1="16.8" y1="563.9" x2="19" y2="563.9" stroke="#151515" stroke-width="0.9"/>
<text x="14.30" y="566.36" font-size="5.6" font-weight="bold" text-anchor="end" fill="#000" textLength="3.55" lengthAdjust="spacingAndGlyphs" >0</text>
<text x="21.20" y="571.80" font-size="7.0" font-weight="bold" fill="#151515" textLength="8.20" lengthAdjust="spacingAndGlyphs" >d0</text>
<text x="36.50" y="571.80" font-size="7.0" font-weight="bold" fill="#151515" textLength="8.20" lengthAdjust="spacingAndGlyphs" >d2</text>
<text x="52.30" y="571.80" font-size="7.0" font-weight="bold" fill="#151515" textLength="8.20" lengthAdjust="spacingAndGlyphs" >d4</text>
<text x="67.40" y="571.80" font-size="7.0" font-weight="bold" fill="#151515" textLength="8.20" lengthAdjust="spacingAndGlyphs" >d6</text>
<text x="81.90" y="571.80" font-size="7.0" font-weight="bold" fill="#151515" textLength="8.20" lengthAdjust="spacingAndGlyphs" >d8</text>
<line x1="25.7" y1="563.5" x2="25.7" y2="565.1" stroke="#151515" stroke-width="0.9"/>
<line x1="33.8" y1="563.5" x2="33.8" y2="565.1" stroke="#151515" stroke-width="0.9"/>
<line x1="41.5" y1="563.5" x2="41.5" y2="565.1" stroke="#151515" stroke-width="0.9"/>
<line x1="48.9" y1="563.5" x2="48.9" y2="565.1" stroke="#151515" stroke-width="0.9"/>
<line x1="56.2" y1="563.5" x2="56.2" y2="565.1" stroke="#151515" stroke-width="0.9"/>
<line x1="64.0" y1="563.5" x2="64.0" y2="565.1" stroke="#151515" stroke-width="0.9"/>
<line x1="71.8" y1="563.5" x2="71.8" y2="565.1" stroke="#151515" stroke-width="0.9"/>
<line x1="79.3" y1="563.5" x2="79.3" y2="565.1" stroke="#151515" stroke-width="0.9"/>
<text x="25.90" y="501.60" font-size="10.4" font-weight="bold" textLength="20.50" lengthAdjust="spacingAndGlyphs" >TEK</text>
<polyline points="37.8,558.2 45.3,558.2 52.5,546.6 60.0,523.3 68.0,517.9 75.5,519.0 83.1,506.0" fill="none" stroke="#2db52d" stroke-width="1.9" stroke-linejoin="round"/>
<polyline points="21.6,548.7 29.8,555.2 37.8,558.2 45.3,555.7 52.5,520.0 60.0,506.0 68.0,498.5 75.5,509.9 83.1,515.7" fill="none" stroke="#d3137b" stroke-width="2.1" stroke-linejoin="round"/>
<rect x="20.3" y="547.4" width="2.6" height="2.6" fill="#d3137b"/>
<rect x="28.5" y="553.9" width="2.6" height="2.6" fill="#d3137b"/>
<rect x="36.5" y="556.9" width="2.6" height="2.6" fill="#d3137b"/>
<rect x="44.0" y="554.4" width="2.6" height="2.6" fill="#d3137b"/>
<rect x="51.2" y="518.7" width="2.6" height="2.6" fill="#d3137b"/>
<rect x="58.7" y="504.7" width="2.6" height="2.6" fill="#d3137b"/>
<rect x="66.7" y="497.2" width="2.6" height="2.6" fill="#d3137b"/>
<rect x="74.2" y="508.6" width="2.6" height="2.6" fill="#d3137b"/>
<rect x="81.8" y="514.4" width="2.6" height="2.6" fill="#d3137b"/>
<path d="M104,490.9 V563.2 H172" fill="none" stroke="#151515" stroke-width="1.3"/>
<line x1="101.8" y1="492" x2="104" y2="492" stroke="#151515" stroke-width="0.9"/>
<text x="101.90" y="493.96" font-size="5.6" font-weight="bold" text-anchor="end" fill="#000" textLength="14.20" lengthAdjust="spacingAndGlyphs" >2500</text>
<line x1="101.8" y1="506.4" x2="104" y2="506.4" stroke="#151515" stroke-width="0.9"/>
<text x="101.90" y="508.36" font-size="5.6" font-weight="bold" text-anchor="end" fill="#000" textLength="14.20" lengthAdjust="spacingAndGlyphs" >2000</text>
<line x1="101.8" y1="520.7" x2="104" y2="520.7" stroke="#151515" stroke-width="0.9"/>
<text x="101.90" y="522.66" font-size="5.6" font-weight="bold" text-anchor="end" fill="#000" textLength="14.20" lengthAdjust="spacingAndGlyphs" >1500</text>
<line x1="101.8" y1="535.1" x2="104" y2="535.1" stroke="#151515" stroke-width="0.9"/>
<text x="101.90" y="537.06" font-size="5.6" font-weight="bold" text-anchor="end" fill="#000" textLength="14.20" lengthAdjust="spacingAndGlyphs" >1000</text>
<line x1="101.8" y1="549.2" x2="104" y2="549.2" stroke="#151515" stroke-width="0.9"/>
<text x="101.90" y="551.16" font-size="5.6" font-weight="bold" text-anchor="end" fill="#000" textLength="10.65" lengthAdjust="spacingAndGlyphs" >500</text>
<line x1="101.8" y1="563.2" x2="104" y2="563.2" stroke="#151515" stroke-width="0.9"/>
<text x="99.30" y="565.66" font-size="5.6" font-weight="bold" text-anchor="end" fill="#000" textLength="3.55" lengthAdjust="spacingAndGlyphs" >0</text>
<text x="107.70" y="571.50" font-size="7.0" font-weight="bold" fill="#151515" textLength="8.20" lengthAdjust="spacingAndGlyphs" >d0</text>
<text x="122.50" y="571.50" font-size="7.0" font-weight="bold" fill="#151515" textLength="8.20" lengthAdjust="spacingAndGlyphs" >d2</text>
<text x="137.60" y="571.50" font-size="7.0" font-weight="bold" fill="#151515" textLength="8.20" lengthAdjust="spacingAndGlyphs" >d4</text>
<text x="152.70" y="571.50" font-size="7.0" font-weight="bold" fill="#151515" textLength="8.20" lengthAdjust="spacingAndGlyphs" >d6</text>
<text x="167.40" y="571.50" font-size="7.0" font-weight="bold" fill="#151515" textLength="8.20" lengthAdjust="spacingAndGlyphs" >d8</text>
<line x1="110.3" y1="563.2" x2="110.3" y2="564.8000000000001" stroke="#151515" stroke-width="0.9"/>
<line x1="118.1" y1="563.2" x2="118.1" y2="564.8000000000001" stroke="#151515" stroke-width="0.9"/>
<line x1="126.0" y1="563.2" x2="126.0" y2="564.8000000000001" stroke="#151515" stroke-width="0.9"/>
<line x1="133.7" y1="563.2" x2="133.7" y2="564.8000000000001" stroke="#151515" stroke-width="0.9"/>
<line x1="141.2" y1="563.2" x2="141.2" y2="564.8000000000001" stroke="#151515" stroke-width="0.9"/>
<line x1="148.8" y1="563.2" x2="148.8" y2="564.8000000000001" stroke="#151515" stroke-width="0.9"/>
<line x1="156.3" y1="563.2" x2="156.3" y2="564.8000000000001" stroke="#151515" stroke-width="0.9"/>
<line x1="164.1" y1="563.2" x2="164.1" y2="564.8000000000001" stroke="#151515" stroke-width="0.9"/>
<text x="113.00" y="501.60" font-size="10.4" font-weight="bold" textLength="28.10" lengthAdjust="spacingAndGlyphs" >CD34</text>
<polyline points="129.9,561.0 137.4,560.0 145.0,552.4 152.6,541.0 160.1,539.5 168.1,518.5" fill="none" stroke="#2db52d" stroke-width="1.9" stroke-linejoin="round"/>
<polyline points="106.6,560.4 114.1,560.4 122.1,560.4 129.9,561.0 137.4,557.8 145.0,520.0 152.6,508.2 160.1,522.2 168.1,536.2" fill="none" stroke="#d3137b" stroke-width="2.1" stroke-linejoin="round"/>
<rect x="105.2" y="559.0" width="2.8" height="2.8" fill="#d3137b"/>
<rect x="112.7" y="559.0" width="2.8" height="2.8" fill="#d3137b"/>
<rect x="120.7" y="559.0" width="2.8" height="2.8" fill="#d3137b"/>
<rect x="128.5" y="559.6" width="2.8" height="2.8" fill="#d3137b"/>
<rect x="136.0" y="556.4" width="2.8" height="2.8" fill="#d3137b"/>
<rect x="143.6" y="518.6" width="2.8" height="2.8" fill="#d3137b"/>
<rect x="151.2" y="506.8" width="2.8" height="2.8" fill="#d3137b"/>
<rect x="158.7" y="520.8" width="2.8" height="2.8" fill="#d3137b"/>
<rect x="166.7" y="534.8" width="2.8" height="2.8" fill="#d3137b"/>
<path d="M186.2,493 V563.2 H256" fill="none" stroke="#151515" stroke-width="1.3"/>
<line x1="184.0" y1="500.6" x2="186.2" y2="500.6" stroke="#151515" stroke-width="0.9"/>
<text x="184.10" y="502.56" font-size="5.6" font-weight="bold" text-anchor="end" fill="#000" textLength="10.65" lengthAdjust="spacingAndGlyphs" >800</text>
<line x1="184.39999999999998" y1="508.5" x2="186.2" y2="508.5" stroke="#151515" stroke-width="0.9"/>
<line x1="184.0" y1="516.4" x2="186.2" y2="516.4" stroke="#151515" stroke-width="0.9"/>
<text x="184.10" y="518.36" font-size="5.6" font-weight="bold" text-anchor="end" fill="#000" textLength="10.65" lengthAdjust="spacingAndGlyphs" >600</text>
<line x1="184.39999999999998" y1="524.1" x2="186.2" y2="524.1" stroke="#151515" stroke-width="0.9"/>
<line x1="184.0" y1="531.9" x2="186.2" y2="531.9" stroke="#151515" stroke-width="0.9"/>
<text x="184.10" y="533.86" font-size="5.6" font-weight="bold" text-anchor="end" fill="#000" textLength="10.65" lengthAdjust="spacingAndGlyphs" >400</text>
<line x1="184.39999999999998" y1="539.5" x2="186.2" y2="539.5" stroke="#151515" stroke-width="0.9"/>
<line x1="184.0" y1="547" x2="186.2" y2="547" stroke="#151515" stroke-width="0.9"/>
<text x="184.10" y="548.96" font-size="5.6" font-weight="bold" text-anchor="end" fill="#000" textLength="10.65" lengthAdjust="spacingAndGlyphs" >200</text>
<line x1="184.39999999999998" y1="555.1" x2="186.2" y2="555.1" stroke="#151515" stroke-width="0.9"/>
<line x1="184.0" y1="563.2" x2="186.2" y2="563.2" stroke="#151515" stroke-width="0.9"/>
<text x="181.50" y="565.66" font-size="5.6" font-weight="bold" text-anchor="end" fill="#000" textLength="3.55" lengthAdjust="spacingAndGlyphs" >0</text>
<text x="193.80" y="570.70" font-size="7.0" font-weight="bold" fill="#151515" textLength="8.20" lengthAdjust="spacingAndGlyphs" >d0</text>
<text x="208.80" y="570.70" font-size="7.0" font-weight="bold" fill="#151515" textLength="8.20" lengthAdjust="spacingAndGlyphs" >d2</text>
<text x="223.90" y="570.70" font-size="7.0" font-weight="bold" fill="#151515" textLength="8.20" lengthAdjust="spacingAndGlyphs" >d4</text>
<text x="238.90" y="570.70" font-size="7.0" font-weight="bold" fill="#151515" textLength="8.20" lengthAdjust="spacingAndGlyphs" >d6</text>
<text x="254.10" y="570.70" font-size="7.0" font-weight="bold" fill="#151515" textLength="8.20" lengthAdjust="spacingAndGlyphs" >d8</text>
<line x1="194.3" y1="563.2" x2="194.3" y2="564.8000000000001" stroke="#151515" stroke-width="0.9"/>
<line x1="201.8" y1="563.2" x2="201.8" y2="564.8000000000001" stroke="#151515" stroke-width="0.9"/>
<line x1="209.4" y1="563.2" x2="209.4" y2="564.8000000000001" stroke="#151515" stroke-width="0.9"/>
<line x1="216.9" y1="563.2" x2="216.9" y2="564.8000000000001" stroke="#151515" stroke-width="0.9"/>
<line x1="224.5" y1="563.2" x2="224.5" y2="564.8000000000001" stroke="#151515" stroke-width="0.9"/>
<line x1="232.1" y1="563.2" x2="232.1" y2="564.8000000000001" stroke="#151515" stroke-width="0.9"/>
<line x1="239.6" y1="563.2" x2="239.6" y2="564.8000000000001" stroke="#151515" stroke-width="0.9"/>
<line x1="247.5" y1="563.2" x2="247.5" y2="564.8000000000001" stroke="#151515" stroke-width="0.9"/>
<text x="191.60" y="501.60" font-size="10.4" font-weight="bold" textLength="21.60" lengthAdjust="spacingAndGlyphs" >HBZ</text>
<polyline points="220.7,555.2 228.3,553.9 235.8,551.8 243.4,555.2 251.6,553.1" fill="none" stroke="#2db52d" stroke-width="1.4" stroke-linejoin="round"/>
<polyline points="190.5,555.7 198.1,556.1 205.6,556.1 213.2,557.4 220.7,555.2 228.3,526.5 235.8,501.3 243.4,541.6 251.6,556.7" fill="none" stroke="#d3137b" stroke-width="2.1" stroke-linejoin="round"/>
<circle cx="220.7" cy="555.2" r="1.2" fill="#2db52d"/>
<circle cx="228.3" cy="553.9" r="1.2" fill="#2db52d"/>
<circle cx="235.8" cy="551.8" r="1.2" fill="#2db52d"/>
<circle cx="243.4" cy="555.2" r="1.2" fill="#2db52d"/>
<circle cx="251.6" cy="553.1" r="1.2" fill="#2db52d"/>
<rect x="189.0" y="554.2" width="3.0" height="3.0" fill="#d3137b"/>
<rect x="196.6" y="554.6" width="3.0" height="3.0" fill="#d3137b"/>
<rect x="204.1" y="554.6" width="3.0" height="3.0" fill="#d3137b"/>
<rect x="211.7" y="555.9" width="3.0" height="3.0" fill="#d3137b"/>
<rect x="219.2" y="553.7" width="3.0" height="3.0" fill="#d3137b"/>
<rect x="226.8" y="525.0" width="3.0" height="3.0" fill="#d3137b"/>
<rect x="234.3" y="499.8" width="3.0" height="3.0" fill="#d3137b"/>
<rect x="241.9" y="540.1" width="3.0" height="3.0" fill="#d3137b"/>
<rect x="250.1" y="555.2" width="3.0" height="3.0" fill="#d3137b"/>
<path d="M269.7,493 V563.2 H339" fill="none" stroke="#151515" stroke-width="1.3"/>
<line x1="267.5" y1="494.1" x2="269.7" y2="494.1" stroke="#151515" stroke-width="0.9"/>
<text x="267.60" y="496.06" font-size="5.6" font-weight="bold" text-anchor="end" fill="#000" textLength="10.65" lengthAdjust="spacingAndGlyphs" >800</text>
<line x1="267.5" y1="511.4" x2="269.7" y2="511.4" stroke="#151515" stroke-width="0.9"/>
<text x="267.60" y="513.36" font-size="5.6" font-weight="bold" text-anchor="end" fill="#000" textLength="10.65" lengthAdjust="spacingAndGlyphs" >600</text>
<line x1="267.5" y1="528.7" x2="269.7" y2="528.7" stroke="#151515" stroke-width="0.9"/>
<text x="267.60" y="530.66" font-size="5.6" font-weight="bold" text-anchor="end" fill="#000" textLength="10.65" lengthAdjust="spacingAndGlyphs" >400</text>
<line x1="267.5" y1="545.9" x2="269.7" y2="545.9" stroke="#151515" stroke-width="0.9"/>
<text x="267.60" y="547.86" font-size="5.6" font-weight="bold" text-anchor="end" fill="#000" textLength="10.65" lengthAdjust="spacingAndGlyphs" >200</text>
<line x1="267.5" y1="563.2" x2="269.7" y2="563.2" stroke="#151515" stroke-width="0.9"/>
<text x="265.00" y="565.66" font-size="5.6" font-weight="bold" text-anchor="end" fill="#000" textLength="3.55" lengthAdjust="spacingAndGlyphs" >0</text>
<text x="273.00" y="570.50" font-size="7.0" font-weight="bold" fill="#151515" textLength="8.20" lengthAdjust="spacingAndGlyphs" >d0</text>
<text x="288.40" y="570.50" font-size="7.0" font-weight="bold" fill="#151515" textLength="8.20" lengthAdjust="spacingAndGlyphs" >d2</text>
<text x="302.50" y="570.50" font-size="7.0" font-weight="bold" fill="#151515" textLength="8.20" lengthAdjust="spacingAndGlyphs" >d4</text>
<text x="317.60" y="570.50" font-size="7.0" font-weight="bold" fill="#151515" textLength="8.20" lengthAdjust="spacingAndGlyphs" >d6</text>
<text x="331.60" y="570.50" font-size="7.0" font-weight="bold" fill="#151515" textLength="8.20" lengthAdjust="spacingAndGlyphs" >d8</text>
<line x1="277.1" y1="563.2" x2="277.1" y2="564.8000000000001" stroke="#151515" stroke-width="0.9"/>
<line x1="284.7" y1="563.2" x2="284.7" y2="564.8000000000001" stroke="#151515" stroke-width="0.9"/>
<line x1="292.2" y1="563.2" x2="292.2" y2="564.8000000000001" stroke="#151515" stroke-width="0.9"/>
<line x1="300.0" y1="563.2" x2="300.0" y2="564.8000000000001" stroke="#151515" stroke-width="0.9"/>
<line x1="307.8" y1="563.2" x2="307.8" y2="564.8000000000001" stroke="#151515" stroke-width="0.9"/>
<line x1="315.4" y1="563.2" x2="315.4" y2="564.8000000000001" stroke="#151515" stroke-width="0.9"/>
<line x1="322.9" y1="563.2" x2="322.9" y2="564.8000000000001" stroke="#151515" stroke-width="0.9"/>
<line x1="330.5" y1="563.2" x2="330.5" y2="564.8000000000001" stroke="#151515" stroke-width="0.9"/>
<text x="276.60" y="501.60" font-size="10.4" font-weight="bold" textLength="27.60" lengthAdjust="spacingAndGlyphs" >HBA2</text>
<polyline points="304.0,553.1 311.6,553.1 319.1,550.9 326.7,553.1 334.4,549.2" fill="none" stroke="#2db52d" stroke-width="1.9" stroke-linejoin="round"/>
<polyline points="273.3,547.0 280.9,550.9 288.5,547.5 296.0,551.8 304.0,553.9 311.6,533.6 319.1,501.3 326.7,538.0 334.4,555.2" fill="none" stroke="#d3137b" stroke-width="2.1" stroke-linejoin="round"/>
<circle cx="304.0" cy="553.1" r="1.2" fill="#2db52d"/>
<circle cx="311.6" cy="553.1" r="1.2" fill="#2db52d"/>
<circle cx="319.1" cy="550.9" r="1.2" fill="#2db52d"/>
<circle cx="326.7" cy="553.1" r="1.2" fill="#2db52d"/>
<circle cx="334.4" cy="549.2" r="1.2" fill="#2db52d"/>
<rect x="271.8" y="545.5" width="3.0" height="3.0" fill="#d3137b"/>
<rect x="279.4" y="549.4" width="3.0" height="3.0" fill="#d3137b"/>
<rect x="287.0" y="546.0" width="3.0" height="3.0" fill="#d3137b"/>
<rect x="294.5" y="550.3" width="3.0" height="3.0" fill="#d3137b"/>
<rect x="302.5" y="552.4" width="3.0" height="3.0" fill="#d3137b"/>
<rect x="310.1" y="532.1" width="3.0" height="3.0" fill="#d3137b"/>
<rect x="317.6" y="499.8" width="3.0" height="3.0" fill="#d3137b"/>
<rect x="325.2" y="536.5" width="3.0" height="3.0" fill="#d3137b"/>
<rect x="332.9" y="553.7" width="3.0" height="3.0" fill="#d3137b"/>
<path d="M359.4,492.6 V563.2 H427" fill="none" stroke="#151515" stroke-width="1.3"/>
<line x1="357.2" y1="492.6" x2="359.4" y2="492.6" stroke="#151515" stroke-width="0.9"/>
<text x="357.30" y="494.56" font-size="5.6" font-weight="bold" text-anchor="end" fill="#000" textLength="14.20" lengthAdjust="spacingAndGlyphs" >2500</text>
<line x1="357.2" y1="506.4" x2="359.4" y2="506.4" stroke="#151515" stroke-width="0.9"/>
<text x="357.30" y="508.36" font-size="5.6" font-weight="bold" text-anchor="end" fill="#000" textLength="14.20" lengthAdjust="spacingAndGlyphs" >2000</text>
<line x1="357.2" y1="520.7" x2="359.4" y2="520.7" stroke="#151515" stroke-width="0.9"/>
<text x="357.30" y="522.66" font-size="5.6" font-weight="bold" text-anchor="end" fill="#000" textLength="14.20" lengthAdjust="spacingAndGlyphs" >1500</text>
<line x1="357.2" y1="534.5" x2="359.4" y2="534.5" stroke="#151515" stroke-width="0.9"/>
<text x="357.30" y="536.46" font-size="5.6" font-weight="bold" text-anchor="end" fill="#000" textLength="14.20" lengthAdjust="spacingAndGlyphs" >1000</text>
<line x1="357.2" y1="549.2" x2="359.4" y2="549.2" stroke="#151515" stroke-width="0.9"/>
<text x="357.30" y="551.16" font-size="5.6" font-weight="bold" text-anchor="end" fill="#000" textLength="10.65" lengthAdjust="spacingAndGlyphs" >500</text>
<line x1="357.2" y1="563.2" x2="359.4" y2="563.2" stroke="#151515" stroke-width="0.9"/>
<text x="354.70" y="565.66" font-size="5.6" font-weight="bold" text-anchor="end" fill="#000" textLength="3.55" lengthAdjust="spacingAndGlyphs" >0</text>
<text x="362.60" y="570.30" font-size="7.0" font-weight="bold" fill="#151515" textLength="8.20" lengthAdjust="spacingAndGlyphs" >d0</text>
<text x="378.00" y="570.30" font-size="7.0" font-weight="bold" fill="#151515" textLength="8.20" lengthAdjust="spacingAndGlyphs" >d2</text>
<text x="393.10" y="570.30" font-size="7.0" font-weight="bold" fill="#151515" textLength="8.20" lengthAdjust="spacingAndGlyphs" >d4</text>
<text x="408.20" y="570.30" font-size="7.0" font-weight="bold" fill="#151515" textLength="8.20" lengthAdjust="spacingAndGlyphs" >d6</text>
<text x="423.30" y="570.30" font-size="7.0" font-weight="bold" fill="#151515" textLength="8.20" lengthAdjust="spacingAndGlyphs" >d8</text>
<line x1="366.4" y1="563.2" x2="366.4" y2="564.8000000000001" stroke="#151515" stroke-width="0.9"/>
<line x1="374.0" y1="563.2" x2="374.0" y2="564.8000000000001" stroke="#151515" stroke-width="0.9"/>
<line x1="381.6" y1="563.2" x2="381.6" y2="564.8000000000001" stroke="#151515" stroke-width="0.9"/>
<line x1="389.1" y1="563.2" x2="389.1" y2="564.8000000000001" stroke="#151515" stroke-width="0.9"/>
<line x1="396.6" y1="563.2" x2="396.6" y2="564.8000000000001" stroke="#151515" stroke-width="0.9"/>
<line x1="404.2" y1="563.2" x2="404.2" y2="564.8000000000001" stroke="#151515" stroke-width="0.9"/>
<line x1="411.8" y1="563.2" x2="411.8" y2="564.8000000000001" stroke="#151515" stroke-width="0.9"/>
<line x1="419.3" y1="563.2" x2="419.3" y2="564.8000000000001" stroke="#151515" stroke-width="0.9"/>
<text x="366.30" y="501.60" font-size="10.4" font-weight="bold" textLength="27.70" lengthAdjust="spacingAndGlyphs" >HBE1</text>
<polyline points="392.9,559.1 400.4,557.8 408.0,556.9 415.5,560.0 423.1,554.6" fill="none" stroke="#2db52d" stroke-width="1.4" stroke-linejoin="round"/>
<polyline points="362.7,560.0 370.2,560.0 377.8,559.1 385.3,560.0 392.9,558.2 400.4,517.9 408.0,506.0 415.5,546.6 423.1,560.0" fill="none" stroke="#d3137b" stroke-width="1.7" stroke-linejoin="round"/>
<path d="M444.9,490.5 V563.2 H512" fill="none" stroke="#151515" stroke-width="1.3"/>
<line x1="442.7" y1="490.9" x2="444.9" y2="490.9" stroke="#151515" stroke-width="0.9"/>
<text x="442.80" y="492.86" font-size="5.6" font-weight="bold" text-anchor="end" fill="#000" textLength="14.20" lengthAdjust="spacingAndGlyphs" >1200</text>
<line x1="442.7" y1="503.4" x2="444.9" y2="503.4" stroke="#151515" stroke-width="0.9"/>
<text x="442.80" y="505.36" font-size="5.6" font-weight="bold" text-anchor="end" fill="#000" textLength="14.20" lengthAdjust="spacingAndGlyphs" >1000</text>
<line x1="442.7" y1="515.1" x2="444.9" y2="515.1" stroke="#151515" stroke-width="0.9"/>
<text x="442.80" y="517.06" font-size="5.6" font-weight="bold" text-anchor="end" fill="#000" textLength="10.65" lengthAdjust="spacingAndGlyphs" >800</text>
<line x1="442.7" y1="527.2" x2="444.9" y2="527.2" stroke="#151515" stroke-width="0.9"/>
<text x="442.80" y="529.16" font-size="5.6" font-weight="bold" text-anchor="end" fill="#000" textLength="10.65" lengthAdjust="spacingAndGlyphs" >600</text>
<line x1="442.7" y1="539" x2="444.9" y2="539" stroke="#151515" stroke-width="0.9"/>
<text x="442.80" y="540.96" font-size="5.6" font-weight="bold" text-anchor="end" fill="#000" textLength="10.65" lengthAdjust="spacingAndGlyphs" >400</text>
<line x1="442.7" y1="550.9" x2="444.9" y2="550.9" stroke="#151515" stroke-width="0.9"/>
<text x="442.80" y="552.86" font-size="5.6" font-weight="bold" text-anchor="end" fill="#000" textLength="10.65" lengthAdjust="spacingAndGlyphs" >200</text>
<line x1="442.7" y1="563.2" x2="444.9" y2="563.2" stroke="#151515" stroke-width="0.9"/>
<text x="440.20" y="565.66" font-size="5.6" font-weight="bold" text-anchor="end" fill="#000" textLength="3.55" lengthAdjust="spacingAndGlyphs" >0</text>
<text x="446.80" y="569.90" font-size="7.0" font-weight="bold" fill="#151515" textLength="8.20" lengthAdjust="spacingAndGlyphs" >d0</text>
<text x="462.20" y="569.90" font-size="7.0" font-weight="bold" fill="#151515" textLength="8.20" lengthAdjust="spacingAndGlyphs" >d2</text>
<text x="476.90" y="569.90" font-size="7.0" font-weight="bold" fill="#151515" textLength="8.20" lengthAdjust="spacingAndGlyphs" >d4</text>
<text x="492.00" y="569.90" font-size="7.0" font-weight="bold" fill="#151515" textLength="8.20" lengthAdjust="spacingAndGlyphs" >d6</text>
<text x="506.10" y="569.90" font-size="7.0" font-weight="bold" fill="#151515" textLength="8.20" lengthAdjust="spacingAndGlyphs" >d8</text>
<line x1="452.3" y1="563.2" x2="452.3" y2="564.8000000000001" stroke="#151515" stroke-width="0.9"/>
<line x1="460.1" y1="563.2" x2="460.1" y2="564.8000000000001" stroke="#151515" stroke-width="0.9"/>
<line x1="467.6" y1="563.2" x2="467.6" y2="564.8000000000001" stroke="#151515" stroke-width="0.9"/>
<line x1="475.2" y1="563.2" x2="475.2" y2="564.8000000000001" stroke="#151515" stroke-width="0.9"/>
<line x1="482.8" y1="563.2" x2="482.8" y2="564.8000000000001" stroke="#151515" stroke-width="0.9"/>
<line x1="490.1" y1="563.2" x2="490.1" y2="564.8000000000001" stroke="#151515" stroke-width="0.9"/>
<line x1="497.4" y1="563.2" x2="497.4" y2="564.8000000000001" stroke="#151515" stroke-width="0.9"/>
<line x1="505.0" y1="563.2" x2="505.0" y2="564.8000000000001" stroke="#151515" stroke-width="0.9"/>
<text x="452.00" y="501.60" font-size="10.4" font-weight="bold" textLength="28.70" lengthAdjust="spacingAndGlyphs" >HBG1</text>
<polyline points="479.0,555.7 486.5,554.6 493.7,553.9 501.2,556.1 508.8,550.9" fill="none" stroke="#2db52d" stroke-width="1.4" stroke-linejoin="round"/>
<polyline points="448.3,557.8 456.3,556.1 463.9,555.7 471.4,557.4 479.0,553.9 486.5,521.6 493.7,501.7 501.2,534.5 508.8,557.4" fill="none" stroke="#d3137b" stroke-width="2.1" stroke-linejoin="round"/>
<circle cx="479.0" cy="555.7" r="1.2" fill="#2db52d"/>
<circle cx="486.5" cy="554.6" r="1.2" fill="#2db52d"/>
<circle cx="493.7" cy="553.9" r="1.2" fill="#2db52d"/>
<circle cx="501.2" cy="556.1" r="1.2" fill="#2db52d"/>
<circle cx="508.8" cy="550.9" r="1.2" fill="#2db52d"/>
<rect x="446.8" y="556.3" width="3.0" height="3.0" fill="#d3137b"/>
<rect x="454.8" y="554.6" width="3.0" height="3.0" fill="#d3137b"/>
<rect x="462.4" y="554.2" width="3.0" height="3.0" fill="#d3137b"/>
<rect x="469.9" y="555.9" width="3.0" height="3.0" fill="#d3137b"/>
<rect x="477.5" y="552.4" width="3.0" height="3.0" fill="#d3137b"/>
<rect x="485.0" y="520.1" width="3.0" height="3.0" fill="#d3137b"/>
<rect x="492.2" y="500.2" width="3.0" height="3.0" fill="#d3137b"/>
<rect x="499.7" y="533.0" width="3.0" height="3.0" fill="#d3137b"/>
<rect x="507.3" y="555.9" width="3.0" height="3.0" fill="#d3137b"/>
<line x1="221.5" y1="555.1" x2="254.7" y2="555.1" stroke="#c9a58a" stroke-width="0.7"/>
<line x1="10" y1="589.2" x2="19.5" y2="589.2" stroke="#2db52d" stroke-width="1.8"/>
<rect x="13.5" y="587.8" width="2.8" height="2.8" fill="#2db52d"/>
<text x="20.30" y="592.30" font-size="10" font-weight="bold" textLength="21.30" lengthAdjust="spacingAndGlyphs" >BVS</text>
<line x1="57" y1="589.2" x2="65.5" y2="589.2" stroke="#d3137b" stroke-width="1.8"/>
<rect x="59.8" y="587.8" width="2.8" height="2.8" fill="#d3137b"/>
<text x="66.00" y="592.30" font-size="10" font-weight="bold" textLength="71.00" lengthAdjust="spacingAndGlyphs" >BVS+d2APLN</text>
</svg>
</body></html>
